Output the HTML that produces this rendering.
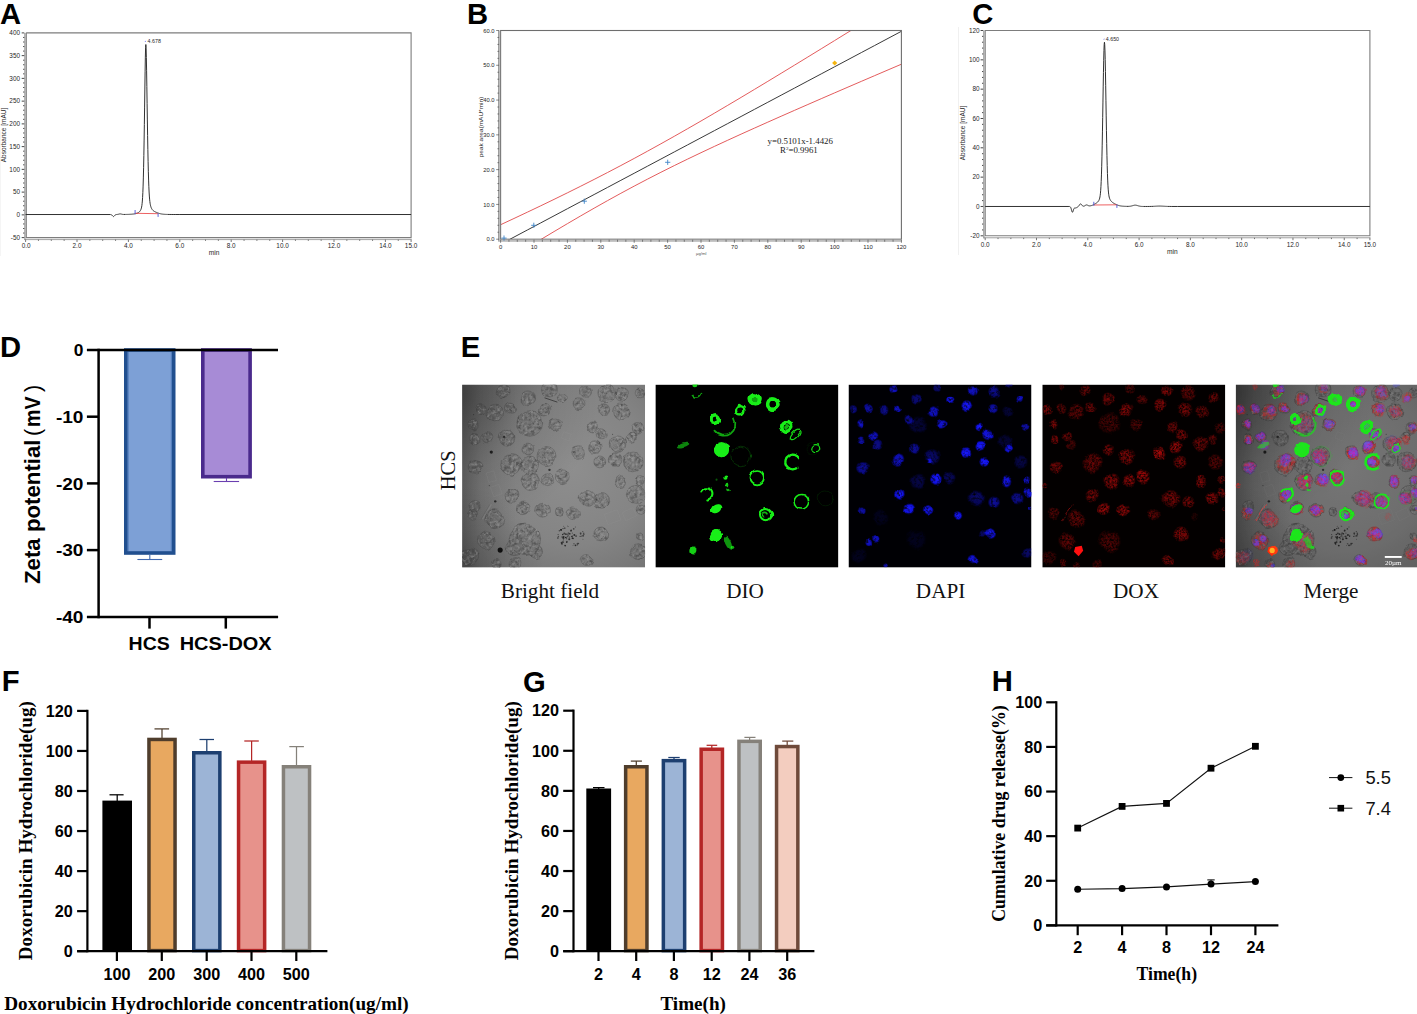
<!DOCTYPE html>
<html><head><meta charset="utf-8"><title>Figure</title>
<style>
html,body{margin:0;padding:0;background:#fff;}
body{width:1417px;height:1014px;overflow:hidden;font-family:"Liberation Sans",sans-serif;}
svg{display:block;position:absolute;left:0;top:0;}
svg text{font-family:"Liberation Sans",sans-serif;}
svg text.se{font-family:"Liberation Serif",serif;}
</style></head><body>
<svg width="1417" height="1014" viewBox="0 0 1417 1014">
<rect width="1417" height="1014" fill="#fff"/>
<defs><clipPath id="ic"><rect x="0" y="0" width="183" height="183"/></clipPath>
<radialGradient id="bfg" cx="0.6" cy="0.45" r="0.85"><stop offset="0" stop-color="#8e8e8e"/><stop offset="0.5" stop-color="#848484"/><stop offset="0.85" stop-color="#727272"/><stop offset="1" stop-color="#626262"/></radialGradient>
<radialGradient id="bfd" cx="0" cy="0.05" r="0.75"><stop offset="0" stop-color="#000" stop-opacity="0.3"/><stop offset="0.55" stop-color="#000" stop-opacity="0.08"/><stop offset="1" stop-color="#000" stop-opacity="0"/></radialGradient>
<linearGradient id="bfl" x1="0" y1="0" x2="1" y2="0"><stop offset="0" stop-color="#000" stop-opacity="0.22"/><stop offset="0.1" stop-color="#000" stop-opacity="0.09"/><stop offset="0.3" stop-color="#000" stop-opacity="0"/></linearGradient>
<radialGradient id="bfc" cx="0" cy="1" r="0.45"><stop offset="0" stop-color="#000" stop-opacity="0.16"/><stop offset="1" stop-color="#000" stop-opacity="0"/></radialGradient>
<radialGradient id="rg"><stop offset="0" stop-color="#c00a0a"/><stop offset="0.7" stop-color="#b00808" stop-opacity="0.85"/><stop offset="1" stop-color="#900" stop-opacity="0"/></radialGradient>
<radialGradient id="bg"><stop offset="0" stop-color="#1a1aff"/><stop offset="0.65" stop-color="#1212f4" stop-opacity="0.9"/><stop offset="1" stop-color="#00c" stop-opacity="0"/></radialGradient>
<filter id="fbd" filterUnits="userSpaceOnUse" x="0" y="0" width="183" height="183" color-interpolation-filters="sRGB"><feTurbulence type="fractalNoise" baseFrequency="0.33" numOctaves="2" seed="4"/><feColorMatrix type="matrix" values="0 0 0 0 0.25 0 0 0 0 0.25 0 0 0 0 0.25 1.6 0 0 0 -0.62"/><feComposite in2="SourceGraphic" operator="in"/><feGaussianBlur stdDeviation="0.35"/></filter>
<filter id="fbl" filterUnits="userSpaceOnUse" x="0" y="0" width="183" height="183" color-interpolation-filters="sRGB"><feTurbulence type="fractalNoise" baseFrequency="0.33" numOctaves="2" seed="11"/><feColorMatrix type="matrix" values="0 0 0 0 0.66 0 0 0 0 0.66 0 0 0 0 0.66 0 1.2 0 0 -0.52"/><feComposite in2="SourceGraphic" operator="in"/><feGaussianBlur stdDeviation="0.35"/></filter>
<filter id="fr" filterUnits="userSpaceOnUse" x="0" y="0" width="183" height="183" color-interpolation-filters="sRGB"><feTurbulence type="fractalNoise" baseFrequency="0.5" numOctaves="2" seed="8" result="n"/><feColorMatrix in="n" type="matrix" values="0 0 0 0 1 0 0 0 0 1 0 0 0 0 1 2.2 0 0 0 -0.5" result="m"/><feComposite in="SourceGraphic" in2="m" operator="in"/><feGaussianBlur stdDeviation="0.5"/></filter>
<filter id="fb" filterUnits="userSpaceOnUse" x="0" y="0" width="183" height="183" color-interpolation-filters="sRGB"><feTurbulence type="fractalNoise" baseFrequency="0.35" numOctaves="2" seed="21" result="n"/><feColorMatrix in="n" type="matrix" values="0 0 0 0 1 0 0 0 0 1 0 0 0 0 1 0 2.4 0 0 -0.3" result="m"/><feComposite in="SourceGraphic" in2="m" operator="in"/><feGaussianBlur stdDeviation="0.5"/></filter>
<filter id="fg" filterUnits="userSpaceOnUse" x="0" y="0" width="183" height="183" color-interpolation-filters="sRGB"><feGaussianBlur stdDeviation="0.7"/><feComponentTransfer><feFuncA type="linear" slope="1.25"/></feComponentTransfer></filter>
<filter id="fg2" filterUnits="userSpaceOnUse" x="0" y="0" width="183" height="183" color-interpolation-filters="sRGB"><feGaussianBlur stdDeviation="0.75"/></filter>
<filter id="wob" filterUnits="userSpaceOnUse" x="0" y="0" width="183" height="183" color-interpolation-filters="sRGB"><feTurbulence type="fractalNoise" baseFrequency="0.075" numOctaves="2" seed="3" result="t"/><feDisplacementMap in="SourceGraphic" in2="t" scale="5" xChannelSelector="R" yChannelSelector="G"/><feGaussianBlur stdDeviation="0.3"/></filter>
<filter id="fs" filterUnits="userSpaceOnUse" x="0" y="0" width="183" height="183" color-interpolation-filters="sRGB"><feGaussianBlur stdDeviation="0.4"/></filter>
<g id="bfcells"><circle cx="41.03" cy="7.3" r="6.9"/><circle cx="65.68" cy="13.21" r="6.9"/><circle cx="87.38" cy="4.34" r="7.89"/><circle cx="100.2" cy="13.21" r="4.93"/><circle cx="123.87" cy="7.3" r="5.52"/><circle cx="116.96" cy="19.13" r="5.92"/><circle cx="144.58" cy="8.28" r="8.88"/><circle cx="159.37" cy="10.26" r="6.31"/><circle cx="178.11" cy="8.28" r="4.93"/><circle cx="19.33" cy="25.05" r="4.93"/><circle cx="33.14" cy="28.99" r="8.28"/><circle cx="48.92" cy="24.06" r="5.52"/><circle cx="82.45" cy="26.04" r="6.31"/><circle cx="67.65" cy="38.86" r="12.82"/><circle cx="93.29" cy="39.84" r="6.31"/><circle cx="141.62" cy="25.05" r="5.92"/><circle cx="159.37" cy="27.02" r="8.88"/><circle cx="11.44" cy="40.83" r="5.52"/><circle cx="130.77" cy="41.81" r="5.52"/><circle cx="139.64" cy="49.7" r="5.52"/><circle cx="175.15" cy="43.79" r="5.92"/><circle cx="12.43" cy="54.64" r="5.52"/><circle cx="25.25" cy="52.66" r="5.52"/><circle cx="44.97" cy="52.66" r="7.89"/><circle cx="65.68" cy="64.5" r="5.92"/><circle cx="84.42" cy="71.4" r="9.47"/><circle cx="115.98" cy="68.44" r="6.31"/><circle cx="132.74" cy="62.52" r="6.31"/><circle cx="155.42" cy="59.57" r="8.28"/><circle cx="169.23" cy="52.66" r="4.93"/><circle cx="137.67" cy="77.32" r="5.92"/><circle cx="153.45" cy="75.35" r="6.31"/><circle cx="171.2" cy="77.32" r="9.86"/><circle cx="13.41" cy="82.25" r="6.31"/><circle cx="48.92" cy="80.28" r="10.26"/><circle cx="67.65" cy="80.28" r="8.88"/><circle cx="68.64" cy="97.04" r="8.88"/><circle cx="85.4" cy="95.07" r="5.92"/><circle cx="100.2" cy="92.11" r="6.9"/><circle cx="158.38" cy="97.04" r="5.92"/><circle cx="178.11" cy="96.06" r="4.93"/><circle cx="49.9" cy="110.85" r="6.9"/><circle cx="174.16" cy="109.86" r="8.88"/><circle cx="125.84" cy="113.81" r="7.89"/><circle cx="139.64" cy="115.78" r="7.89"/><circle cx="12.43" cy="121.7" r="5.52"/><circle cx="61.74" cy="123.67" r="6.31"/><circle cx="80.47" cy="125.64" r="6.9"/><circle cx="111.05" cy="128.6" r="6.31"/><circle cx="97.24" cy="126.63" r="3.94"/><circle cx="32.15" cy="134.52" r="9.47"/><circle cx="10.45" cy="129.59" r="4.93"/><circle cx="179.09" cy="124.65" r="4.93"/><circle cx="24.26" cy="156.21" r="8.88"/><circle cx="138.66" cy="149.31" r="6.9"/><circle cx="62.72" cy="155.23" r="15.78"/><circle cx="51.87" cy="163.12" r="7.89"/><circle cx="73.57" cy="167.06" r="6.9"/><circle cx="7.5" cy="171.99" r="8.88"/><circle cx="123.87" cy="175.94" r="5.92"/><circle cx="53.85" cy="178.9" r="5.92"/><circle cx="176.13" cy="167.06" r="7.89"/><circle cx="178.11" cy="151.28" r="3.94"/><circle cx="34.12" cy="178.9" r="4.93"/></g>
<g id="bfout" fill="none" filter="url(#fs)"><circle cx="41.03" cy="7.3" r="6.9" stroke="#303030" stroke-width="0.6" stroke-opacity="0.4"/><circle cx="65.68" cy="13.21" r="6.9" stroke="#303030" stroke-width="0.6" stroke-opacity="0.4"/><circle cx="87.38" cy="4.34" r="7.89" stroke="#303030" stroke-width="0.6" stroke-opacity="0.4"/><circle cx="100.2" cy="13.21" r="4.93" stroke="#303030" stroke-width="0.6" stroke-opacity="0.4"/><circle cx="123.87" cy="7.3" r="5.52" stroke="#303030" stroke-width="0.6" stroke-opacity="0.4"/><circle cx="116.96" cy="19.13" r="5.92" stroke="#303030" stroke-width="0.6" stroke-opacity="0.4"/><circle cx="144.58" cy="8.28" r="8.88" stroke="#303030" stroke-width="0.6" stroke-opacity="0.4"/><circle cx="159.37" cy="10.26" r="6.31" stroke="#303030" stroke-width="0.6" stroke-opacity="0.4"/><circle cx="178.11" cy="8.28" r="4.93" stroke="#303030" stroke-width="0.6" stroke-opacity="0.4"/><circle cx="19.33" cy="25.05" r="4.93" stroke="#303030" stroke-width="0.6" stroke-opacity="0.4"/><circle cx="33.14" cy="28.99" r="8.28" stroke="#303030" stroke-width="0.6" stroke-opacity="0.4"/><circle cx="48.92" cy="24.06" r="5.52" stroke="#303030" stroke-width="0.6" stroke-opacity="0.4"/><circle cx="82.45" cy="26.04" r="6.31" stroke="#303030" stroke-width="0.6" stroke-opacity="0.4"/><circle cx="67.65" cy="38.86" r="12.82" stroke="#303030" stroke-width="0.6" stroke-opacity="0.4"/><circle cx="93.29" cy="39.84" r="6.31" stroke="#303030" stroke-width="0.6" stroke-opacity="0.4"/><circle cx="141.62" cy="25.05" r="5.92" stroke="#303030" stroke-width="0.6" stroke-opacity="0.4"/><circle cx="159.37" cy="27.02" r="8.88" stroke="#303030" stroke-width="0.6" stroke-opacity="0.4"/><circle cx="11.44" cy="40.83" r="5.52" stroke="#303030" stroke-width="0.6" stroke-opacity="0.4"/><circle cx="130.77" cy="41.81" r="5.52" stroke="#303030" stroke-width="0.6" stroke-opacity="0.4"/><circle cx="139.64" cy="49.7" r="5.52" stroke="#303030" stroke-width="0.6" stroke-opacity="0.4"/><circle cx="175.15" cy="43.79" r="5.92" stroke="#303030" stroke-width="0.6" stroke-opacity="0.4"/><circle cx="12.43" cy="54.64" r="5.52" stroke="#303030" stroke-width="0.6" stroke-opacity="0.4"/><circle cx="25.25" cy="52.66" r="5.52" stroke="#303030" stroke-width="0.6" stroke-opacity="0.4"/><circle cx="44.97" cy="52.66" r="7.89" stroke="#303030" stroke-width="0.6" stroke-opacity="0.4"/><circle cx="65.68" cy="64.5" r="5.92" stroke="#303030" stroke-width="0.6" stroke-opacity="0.4"/><circle cx="84.42" cy="71.4" r="9.47" stroke="#303030" stroke-width="0.6" stroke-opacity="0.4"/><circle cx="115.98" cy="68.44" r="6.31" stroke="#303030" stroke-width="0.6" stroke-opacity="0.4"/><circle cx="132.74" cy="62.52" r="6.31" stroke="#303030" stroke-width="0.6" stroke-opacity="0.4"/><circle cx="155.42" cy="59.57" r="8.28" stroke="#303030" stroke-width="0.6" stroke-opacity="0.4"/><circle cx="169.23" cy="52.66" r="4.93" stroke="#303030" stroke-width="0.6" stroke-opacity="0.4"/><circle cx="137.67" cy="77.32" r="5.92" stroke="#303030" stroke-width="0.6" stroke-opacity="0.4"/><circle cx="153.45" cy="75.35" r="6.31" stroke="#303030" stroke-width="0.6" stroke-opacity="0.4"/><circle cx="171.2" cy="77.32" r="9.86" stroke="#303030" stroke-width="0.6" stroke-opacity="0.4"/><circle cx="13.41" cy="82.25" r="6.31" stroke="#303030" stroke-width="0.6" stroke-opacity="0.4"/><circle cx="48.92" cy="80.28" r="10.26" stroke="#303030" stroke-width="0.6" stroke-opacity="0.4"/><circle cx="67.65" cy="80.28" r="8.88" stroke="#303030" stroke-width="0.6" stroke-opacity="0.4"/><circle cx="68.64" cy="97.04" r="8.88" stroke="#303030" stroke-width="0.6" stroke-opacity="0.4"/><circle cx="85.4" cy="95.07" r="5.92" stroke="#303030" stroke-width="0.6" stroke-opacity="0.4"/><circle cx="100.2" cy="92.11" r="6.9" stroke="#303030" stroke-width="0.6" stroke-opacity="0.4"/><circle cx="158.38" cy="97.04" r="5.92" stroke="#303030" stroke-width="0.6" stroke-opacity="0.4"/><circle cx="178.11" cy="96.06" r="4.93" stroke="#303030" stroke-width="0.6" stroke-opacity="0.4"/><circle cx="49.9" cy="110.85" r="6.9" stroke="#303030" stroke-width="0.6" stroke-opacity="0.4"/><circle cx="174.16" cy="109.86" r="8.88" stroke="#303030" stroke-width="0.6" stroke-opacity="0.4"/><circle cx="125.84" cy="113.81" r="7.89" stroke="#303030" stroke-width="0.6" stroke-opacity="0.4"/><circle cx="139.64" cy="115.78" r="7.89" stroke="#303030" stroke-width="0.6" stroke-opacity="0.4"/><circle cx="12.43" cy="121.7" r="5.52" stroke="#303030" stroke-width="0.6" stroke-opacity="0.4"/><circle cx="61.74" cy="123.67" r="6.31" stroke="#303030" stroke-width="0.6" stroke-opacity="0.4"/><circle cx="80.47" cy="125.64" r="6.9" stroke="#303030" stroke-width="0.6" stroke-opacity="0.4"/><circle cx="111.05" cy="128.6" r="6.31" stroke="#303030" stroke-width="0.6" stroke-opacity="0.4"/><circle cx="97.24" cy="126.63" r="3.94" stroke="#303030" stroke-width="0.6" stroke-opacity="0.4"/><circle cx="32.15" cy="134.52" r="9.47" stroke="#303030" stroke-width="0.6" stroke-opacity="0.4"/><circle cx="10.45" cy="129.59" r="4.93" stroke="#303030" stroke-width="0.6" stroke-opacity="0.4"/><circle cx="179.09" cy="124.65" r="4.93" stroke="#303030" stroke-width="0.6" stroke-opacity="0.4"/><circle cx="24.26" cy="156.21" r="8.88" stroke="#303030" stroke-width="0.6" stroke-opacity="0.4"/><circle cx="138.66" cy="149.31" r="6.9" stroke="#303030" stroke-width="0.6" stroke-opacity="0.4"/><circle cx="62.72" cy="155.23" r="15.78" stroke="#303030" stroke-width="0.6" stroke-opacity="0.4"/><circle cx="51.87" cy="163.12" r="7.89" stroke="#303030" stroke-width="0.6" stroke-opacity="0.4"/><circle cx="73.57" cy="167.06" r="6.9" stroke="#303030" stroke-width="0.6" stroke-opacity="0.4"/><circle cx="7.5" cy="171.99" r="8.88" stroke="#303030" stroke-width="0.6" stroke-opacity="0.4"/><circle cx="123.87" cy="175.94" r="5.92" stroke="#303030" stroke-width="0.6" stroke-opacity="0.4"/><circle cx="53.85" cy="178.9" r="5.92" stroke="#303030" stroke-width="0.6" stroke-opacity="0.4"/><circle cx="176.13" cy="167.06" r="7.89" stroke="#303030" stroke-width="0.6" stroke-opacity="0.4"/><circle cx="178.11" cy="151.28" r="3.94" stroke="#303030" stroke-width="0.6" stroke-opacity="0.4"/><circle cx="34.12" cy="178.9" r="4.93" stroke="#303030" stroke-width="0.6" stroke-opacity="0.4"/></g>
<g id="bfdeb" filter="url(#fs)"><circle cx="29.19" cy="67.46" r="1.58" fill="#0a0a0a" fill-opacity="0.8"/><circle cx="42.01" cy="52.27" r="1.18" fill="#0a0a0a" fill-opacity="0.55"/><circle cx="87.38" cy="85.21" r="1.18" fill="#0a0a0a" fill-opacity="0.65"/><circle cx="33.14" cy="116.77" r="1.18" fill="#0a0a0a" fill-opacity="0.7"/><circle cx="38.07" cy="165.48" r="2.56" fill="#0a0a0a" fill-opacity="0.95"/><circle cx="27.22" cy="100.99" r="0.59" fill="#0a0a0a" fill-opacity="0.45"/><circle cx="150.49" cy="49.7" r="0.59" fill="#0a0a0a" fill-opacity="0.45"/><circle cx="11.44" cy="29.98" r="0.59" fill="#0a0a0a" fill-opacity="0.35"/><circle cx="99.01" cy="145.4" r="0.89" fill="#1c1c1c" fill-opacity="0.83"/><circle cx="105.38" cy="141.48" r="0.47" fill="#1c1c1c" fill-opacity="0.64"/><circle cx="118.53" cy="148.6" r="0.95" fill="#1c1c1c" fill-opacity="0.5"/><circle cx="101.61" cy="152.04" r="0.75" fill="#1c1c1c" fill-opacity="0.68"/><circle cx="110.29" cy="151.58" r="0.6" fill="#1c1c1c" fill-opacity="0.82"/><circle cx="106.45" cy="148.42" r="0.89" fill="#1c1c1c" fill-opacity="0.51"/><circle cx="103.98" cy="149.64" r="0.45" fill="#1c1c1c" fill-opacity="0.8"/><circle cx="107.17" cy="154.72" r="0.99" fill="#1c1c1c" fill-opacity="0.8"/><circle cx="103.21" cy="161.09" r="0.75" fill="#1c1c1c" fill-opacity="0.72"/><circle cx="113.34" cy="160.84" r="0.83" fill="#1c1c1c" fill-opacity="0.84"/><circle cx="110.24" cy="148.52" r="0.65" fill="#1c1c1c" fill-opacity="0.52"/><circle cx="107.22" cy="152.5" r="0.62" fill="#1c1c1c" fill-opacity="0.69"/><circle cx="119.37" cy="151.45" r="0.64" fill="#1c1c1c" fill-opacity="0.57"/><circle cx="109.17" cy="145.62" r="0.62" fill="#1c1c1c" fill-opacity="0.64"/><circle cx="105.65" cy="149.94" r="0.99" fill="#1c1c1c" fill-opacity="0.46"/><circle cx="106.1" cy="142.04" r="0.46" fill="#1c1c1c" fill-opacity="0.77"/><circle cx="100.56" cy="156.56" r="0.45" fill="#1c1c1c" fill-opacity="0.47"/><circle cx="115.04" cy="160.41" r="0.56" fill="#1c1c1c" fill-opacity="0.75"/><circle cx="120.66" cy="147.02" r="0.64" fill="#1c1c1c" fill-opacity="0.59"/><circle cx="96" cy="149.94" r="0.51" fill="#1c1c1c" fill-opacity="0.75"/><circle cx="113.27" cy="142.34" r="0.47" fill="#1c1c1c" fill-opacity="0.83"/><circle cx="110.95" cy="153.93" r="0.79" fill="#1c1c1c" fill-opacity="0.82"/><circle cx="99.92" cy="159.59" r="0.75" fill="#1c1c1c" fill-opacity="0.57"/><circle cx="104.63" cy="154.11" r="0.49" fill="#1c1c1c" fill-opacity="0.51"/><circle cx="101.56" cy="141.66" r="0.54" fill="#1c1c1c" fill-opacity="0.47"/><circle cx="113.96" cy="150.72" r="0.67" fill="#1c1c1c" fill-opacity="0.54"/><circle cx="97.22" cy="146.22" r="0.7" fill="#1c1c1c" fill-opacity="0.62"/><circle cx="120.86" cy="154.63" r="0.47" fill="#1c1c1c" fill-opacity="0.65"/><circle cx="107.67" cy="149.16" r="0.85" fill="#1c1c1c" fill-opacity="0.83"/><circle cx="99.05" cy="144.85" r="0.51" fill="#1c1c1c" fill-opacity="0.62"/><circle cx="116.49" cy="158.73" r="0.61" fill="#1c1c1c" fill-opacity="0.63"/><circle cx="120.99" cy="151.24" r="0.99" fill="#1c1c1c" fill-opacity="0.63"/><circle cx="96.34" cy="151.9" r="0.71" fill="#1c1c1c" fill-opacity="0.57"/><circle cx="103.49" cy="152.82" r="0.66" fill="#1c1c1c" fill-opacity="0.85"/><circle cx="118.6" cy="149.41" r="0.72" fill="#1c1c1c" fill-opacity="0.59"/><circle cx="110.28" cy="153.5" r="0.88" fill="#1c1c1c" fill-opacity="0.8"/><circle cx="99.46" cy="158" r="0.88" fill="#1c1c1c" fill-opacity="0.73"/><circle cx="100.92" cy="143.93" r="0.65" fill="#1c1c1c" fill-opacity="0.73"/><circle cx="104.69" cy="157.43" r="0.87" fill="#1c1c1c" fill-opacity="0.73"/><circle cx="102.92" cy="160.9" r="0.81" fill="#1c1c1c" fill-opacity="0.68"/><circle cx="118.05" cy="151.78" r="0.59" fill="#1c1c1c" fill-opacity="0.72"/><circle cx="95.79" cy="153.36" r="0.81" fill="#1c1c1c" fill-opacity="0.77"/><circle cx="100.93" cy="157.52" r="0.86" fill="#1c1c1c" fill-opacity="0.78"/><circle cx="99.74" cy="158.74" r="0.93" fill="#1c1c1c" fill-opacity="0.73"/><circle cx="121.78" cy="149.77" r="0.73" fill="#1c1c1c" fill-opacity="0.66"/><circle cx="115.49" cy="159.21" r="0.97" fill="#1c1c1c" fill-opacity="0.64"/><circle cx="102.62" cy="143.58" r="0.85" fill="#1c1c1c" fill-opacity="0.52"/><circle cx="111.64" cy="144.3" r="0.82" fill="#1c1c1c" fill-opacity="0.62"/><circle cx="98.82" cy="145.18" r="0.8" fill="#1c1c1c" fill-opacity="0.74"/><circle cx="109.45" cy="151.78" r="0.69" fill="#1c1c1c" fill-opacity="0.71"/><circle cx="111.88" cy="159.12" r="0.8" fill="#1c1c1c" fill-opacity="0.47"/><circle cx="101.86" cy="151.93" r="0.48" fill="#1c1c1c" fill-opacity="0.5"/><circle cx="104.59" cy="154.15" r="0.56" fill="#1c1c1c" fill-opacity="0.46"/><circle cx="100.05" cy="152.42" r="0.79" fill="#1c1c1c" fill-opacity="0.69"/><circle cx="110.93" cy="160.93" r="0.45" fill="#1c1c1c" fill-opacity="0.61"/><circle cx="104.95" cy="156.76" r="0.51" fill="#1c1c1c" fill-opacity="0.78"/><circle cx="105.28" cy="152.01" r="0.79" fill="#1c1c1c" fill-opacity="0.49"/><circle cx="100.61" cy="149.91" r="0.77" fill="#1c1c1c" fill-opacity="0.83"/><circle cx="108.89" cy="146.14" r="0.9" fill="#1c1c1c" fill-opacity="0.71"/><circle cx="103.99" cy="153.22" r="0.78" fill="#1c1c1c" fill-opacity="0.68"/><circle cx="121.58" cy="148.58" r="0.78" fill="#1c1c1c" fill-opacity="0.59"/><circle cx="106.19" cy="151.23" r="0.51" fill="#1c1c1c" fill-opacity="0.68"/><circle cx="103.79" cy="149.54" r="0.8" fill="#1c1c1c" fill-opacity="0.81"/><circle cx="101.29" cy="155.34" r="0.57" fill="#1c1c1c" fill-opacity="0.57"/><circle cx="112.23" cy="150.37" r="0.98" fill="#1c1c1c" fill-opacity="0.82"/><circle cx="102.19" cy="148.99" r="0.99" fill="#1c1c1c" fill-opacity="0.65"/><circle cx="101.37" cy="153.65" r="0.99" fill="#1c1c1c" fill-opacity="0.65"/><circle cx="104.46" cy="157.31" r="0.52" fill="#1c1c1c" fill-opacity="0.7"/><circle cx="101.26" cy="152.81" r="0.88" fill="#1c1c1c" fill-opacity="0.78"/><circle cx="113.95" cy="151.84" r="0.6" fill="#1c1c1c" fill-opacity="0.82"/><line x1="82.45" y1="13.21" x2="95.27" y2="17.55" stroke="#2a2a2a" stroke-opacity="0.7" stroke-width="1"/><line x1="20.32" y1="134.52" x2="29.19" y2="119.72" stroke="#8e8e8e" stroke-opacity="0.4" stroke-width="1.8"/><line x1="19.12" y1="134.52" x2="27.99" y2="119.72" stroke="#444" stroke-opacity="0.5" stroke-width="0.5"/><rect x="143.59" y="127.12" width="13.81" height="10.85" fill="none" stroke="#9c9c9c" stroke-opacity="0.28" stroke-width="0.5" transform="rotate(-20 150.49 132.54)"/><rect x="161.34" y="125.15" width="11.83" height="8.88" fill="none" stroke="#9c9c9c" stroke-opacity="0.28" stroke-width="0.5" transform="rotate(-25 167.26 129.59)"/><rect x="25.25" y="87.18" width="7.89" height="9.86" fill="none" stroke="#9c9c9c" stroke-opacity="0.28" stroke-width="0.5" transform="rotate(-15 29.19 92.11)"/><rect x="100.2" y="48.22" width="7.89" height="6.9" fill="none" stroke="#9c9c9c" stroke-opacity="0.28" stroke-width="0.5" transform="rotate(20 104.14 51.68)"/><rect x="29.68" y="100.99" width="8.88" height="9.86" fill="none" stroke="#9c9c9c" stroke-opacity="0.28" stroke-width="0.5" transform="rotate(-20 34.12 105.92)"/></g>
<g id="redb"><circle cx="43" cy="6.31" r="6.39" fill="url(#rg)" fill-opacity="0.52"/><circle cx="87.38" cy="3.35" r="5.33" fill="url(#rg)" fill-opacity="0.39"/><circle cx="124.85" cy="6.31" r="5.96" fill="url(#rg)" fill-opacity="0.72"/><circle cx="145.56" cy="7.69" r="8.09" fill="url(#rg)" fill-opacity="0.52"/><circle cx="171.79" cy="13.21" r="6.39" fill="url(#rg)" fill-opacity="0.59"/><circle cx="19.33" cy="2.37" r="3.2" fill="url(#rg)" fill-opacity="0.39"/><circle cx="65.68" cy="14.2" r="6.82" fill="url(#rg)" fill-opacity="0.59"/><circle cx="99.8" cy="14.79" r="6.39" fill="url(#rg)" fill-opacity="0.52"/><circle cx="117.95" cy="20.12" r="6.82" fill="url(#rg)" fill-opacity="0.78"/><circle cx="5.52" cy="25.05" r="5.96" fill="url(#rg)" fill-opacity="0.65"/><circle cx="19.33" cy="24.65" r="5.33" fill="url(#rg)" fill-opacity="0.52"/><circle cx="34.12" cy="28.01" r="8.52" fill="url(#rg)" fill-opacity="0.52"/><circle cx="48.92" cy="23.08" r="5.96" fill="url(#rg)" fill-opacity="0.59"/><circle cx="83.43" cy="26.04" r="7.46" fill="url(#rg)" fill-opacity="0.72"/><circle cx="142.6" cy="25.05" r="8.09" fill="url(#rg)" fill-opacity="0.65"/><circle cx="159.96" cy="27.02" r="8.09" fill="url(#rg)" fill-opacity="0.52"/><circle cx="11.44" cy="40.43" r="5.33" fill="url(#rg)" fill-opacity="0.65"/><circle cx="67.26" cy="38.86" r="11.72" fill="url(#rg)" fill-opacity="0.39"/><circle cx="93.89" cy="39.84" r="6.82" fill="url(#rg)" fill-opacity="0.45"/><circle cx="130.77" cy="41.81" r="6.39" fill="url(#rg)" fill-opacity="0.59"/><circle cx="177.12" cy="43.79" r="6.39" fill="url(#rg)" fill-opacity="0.39"/><circle cx="139.64" cy="50.69" r="6.82" fill="url(#rg)" fill-opacity="0.65"/><circle cx="25.25" cy="52.07" r="5.54" fill="url(#rg)" fill-opacity="0.59"/><circle cx="12.43" cy="55.03" r="5.11" fill="url(#rg)" fill-opacity="0.65"/><circle cx="29.19" cy="60.55" r="5.33" fill="url(#rg)" fill-opacity="0.39"/><circle cx="158.38" cy="59.57" r="8.52" fill="url(#rg)" fill-opacity="0.59"/><circle cx="170.22" cy="54.64" r="5.33" fill="url(#rg)" fill-opacity="0.52"/><circle cx="133.33" cy="62.52" r="6.82" fill="url(#rg)" fill-opacity="0.85"/><circle cx="66.07" cy="65.48" r="6.39" fill="url(#rg)" fill-opacity="0.65"/><circle cx="116.96" cy="69.03" r="6.82" fill="url(#rg)" fill-opacity="0.91"/><circle cx="84.81" cy="71.4" r="8.95" fill="url(#rg)" fill-opacity="0.72"/><circle cx="49.9" cy="78.7" r="10.65" fill="url(#rg)" fill-opacity="0.59"/><circle cx="137.67" cy="77.32" r="7.46" fill="url(#rg)" fill-opacity="0.65"/><circle cx="173.18" cy="77.32" r="8.52" fill="url(#rg)" fill-opacity="0.45"/><circle cx="14" cy="82.64" r="6.39" fill="url(#rg)" fill-opacity="0.65"/><circle cx="69.63" cy="97.04" r="8.95" fill="url(#rg)" fill-opacity="0.72"/><circle cx="86.79" cy="96.06" r="6.82" fill="url(#rg)" fill-opacity="0.78"/><circle cx="100.79" cy="92.11" r="7.46" fill="url(#rg)" fill-opacity="0.85"/><circle cx="158.97" cy="96.45" r="6.82" fill="url(#rg)" fill-opacity="0.72"/><circle cx="179.09" cy="95.07" r="4.69" fill="url(#rg)" fill-opacity="0.52"/><circle cx="2.56" cy="101.97" r="3.2" fill="url(#rg)" fill-opacity="0.52"/><circle cx="49.9" cy="110.45" r="7.46" fill="url(#rg)" fill-opacity="0.65"/><circle cx="128.4" cy="114.2" r="9.59" fill="url(#rg)" fill-opacity="0.65"/><circle cx="145.96" cy="117.36" r="6.82" fill="url(#rg)" fill-opacity="0.65"/><circle cx="170.22" cy="113.81" r="6.82" fill="url(#rg)" fill-opacity="0.72"/><circle cx="179.09" cy="107.89" r="4.69" fill="url(#rg)" fill-opacity="0.65"/><circle cx="11.44" cy="128.6" r="6.82" fill="url(#rg)" fill-opacity="0.45"/><circle cx="62.13" cy="124.26" r="6.82" fill="url(#rg)" fill-opacity="0.85"/><circle cx="80.87" cy="125.64" r="6.82" fill="url(#rg)" fill-opacity="0.78"/><circle cx="111.44" cy="129.59" r="6.82" fill="url(#rg)" fill-opacity="0.52"/><circle cx="33.73" cy="134.52" r="9.59" fill="url(#rg)" fill-opacity="0.52"/><circle cx="152.47" cy="132.54" r="4.26" fill="url(#rg)" fill-opacity="0.2"/><circle cx="181.07" cy="124.65" r="2.13" fill="url(#rg)" fill-opacity="0.52"/><circle cx="138.66" cy="149.31" r="8.09" fill="url(#rg)" fill-opacity="0.72"/><circle cx="24.85" cy="156.8" r="9.59" fill="url(#rg)" fill-opacity="0.52"/><circle cx="67.26" cy="157.2" r="11.72" fill="url(#rg)" fill-opacity="0.45"/><circle cx="176.13" cy="169.03" r="7.46" fill="url(#rg)" fill-opacity="0.59"/><circle cx="180.08" cy="155.23" r="3.2" fill="url(#rg)" fill-opacity="0.52"/><circle cx="6.51" cy="172.98" r="8.52" fill="url(#rg)" fill-opacity="0.33"/><circle cx="124.85" cy="175.94" r="6.39" fill="url(#rg)" fill-opacity="0.65"/><circle cx="21.3" cy="178.9" r="4.26" fill="url(#rg)" fill-opacity="0.52"/><circle cx="55.82" cy="179.88" r="5.33" fill="url(#rg)" fill-opacity="0.39"/><circle cx="34.12" cy="179.88" r="4.26" fill="url(#rg)" fill-opacity="0.39"/><line x1="20.32" y1="135.5" x2="30.18" y2="120.71" stroke="#e01515" stroke-opacity="0.8" stroke-width="0.8"/></g>
<path id="redsolid" d="M32.87 162.47 l6.6 -1.2 l1.4 5 l-4.6 5.4 l-4.6 -4.4 z"/>
<g id="blub"><circle cx="44.97" cy="4.73" r="4.77" fill="url(#bg)" fill-opacity="0.78"/><circle cx="88.36" cy="2.37" r="4.34" fill="url(#bg)" fill-opacity="0.39"/><circle cx="124.85" cy="6.31" r="5.42" fill="url(#bg)" fill-opacity="0.78"/><circle cx="145.56" cy="7.3" r="6.51" fill="url(#bg)" fill-opacity="0.52"/><circle cx="160.36" cy="1.38" r="3.25" fill="url(#bg)" fill-opacity="0.39"/><circle cx="67.65" cy="14.2" r="5.42" fill="url(#bg)" fill-opacity="0.45"/><circle cx="101.78" cy="15.19" r="4.77" fill="url(#bg)" fill-opacity="0.91"/><circle cx="118.34" cy="21.1" r="6.07" fill="url(#bg)" fill-opacity="1"/><circle cx="171.79" cy="14.6" r="4.34" fill="url(#bg)" fill-opacity="0.78"/><circle cx="5.52" cy="24.65" r="4.77" fill="url(#bg)" fill-opacity="0.52"/><circle cx="20.32" cy="24.06" r="4.77" fill="url(#bg)" fill-opacity="0.65"/><circle cx="35.11" cy="26.04" r="5.42" fill="url(#bg)" fill-opacity="0.52"/><circle cx="49.9" cy="24.46" r="3.91" fill="url(#bg)" fill-opacity="0.78"/><circle cx="85.4" cy="28.01" r="6.07" fill="url(#bg)" fill-opacity="0.78"/><circle cx="144.58" cy="24.06" r="5.42" fill="url(#bg)" fill-opacity="0.65"/><circle cx="159.37" cy="27.02" r="6.51" fill="url(#bg)" fill-opacity="0.2"/><circle cx="60.75" cy="34.91" r="5.42" fill="url(#bg)" fill-opacity="0.59"/><circle cx="69.63" cy="40.83" r="9.76" fill="url(#bg)" fill-opacity="0.2"/><circle cx="93.29" cy="39.25" r="5.42" fill="url(#bg)" fill-opacity="0.85"/><circle cx="11.83" cy="39.84" r="4.77" fill="url(#bg)" fill-opacity="0.78"/><circle cx="130.77" cy="41.81" r="4.34" fill="url(#bg)" fill-opacity="1"/><circle cx="176.13" cy="42.8" r="4.34" fill="url(#bg)" fill-opacity="0.65"/><circle cx="139.64" cy="50.69" r="6.51" fill="url(#bg)" fill-opacity="0.91"/><circle cx="25.25" cy="51.68" r="5.42" fill="url(#bg)" fill-opacity="0.78"/><circle cx="12.43" cy="55.62" r="4.34" fill="url(#bg)" fill-opacity="0.65"/><circle cx="29.19" cy="60.55" r="5.42" fill="url(#bg)" fill-opacity="0.52"/><circle cx="131.76" cy="61.14" r="5.42" fill="url(#bg)" fill-opacity="1"/><circle cx="65.68" cy="64.1" r="6.07" fill="url(#bg)" fill-opacity="0.59"/><circle cx="160.36" cy="63.91" r="4.77" fill="url(#bg)" fill-opacity="0.91"/><circle cx="156.41" cy="56.61" r="7.59" fill="url(#bg)" fill-opacity="0.2"/><circle cx="117.95" cy="68.44" r="5.42" fill="url(#bg)" fill-opacity="1"/><circle cx="84.42" cy="71.4" r="8.68" fill="url(#bg)" fill-opacity="0.39"/><circle cx="81.46" cy="75.35" r="3.25" fill="url(#bg)" fill-opacity="0.78"/><circle cx="48.92" cy="75.35" r="6.51" fill="url(#bg)" fill-opacity="0.78"/><circle cx="135.7" cy="77.32" r="5.42" fill="url(#bg)" fill-opacity="1"/><circle cx="172.19" cy="77.32" r="7.59" fill="url(#bg)" fill-opacity="0.26"/><circle cx="14.4" cy="83.23" r="6.51" fill="url(#bg)" fill-opacity="0.59"/><circle cx="87.38" cy="94.48" r="6.51" fill="url(#bg)" fill-opacity="1"/><circle cx="101.18" cy="93.1" r="6.51" fill="url(#bg)" fill-opacity="0.33"/><circle cx="69.63" cy="97.04" r="8.68" fill="url(#bg)" fill-opacity="0.26"/><circle cx="158.38" cy="96.45" r="6.07" fill="url(#bg)" fill-opacity="0.91"/><circle cx="178.11" cy="96.06" r="3.91" fill="url(#bg)" fill-opacity="0.78"/><circle cx="50.89" cy="109.86" r="6.07" fill="url(#bg)" fill-opacity="1"/><circle cx="179.09" cy="107.89" r="4.77" fill="url(#bg)" fill-opacity="0.91"/><circle cx="169.23" cy="113.81" r="6.51" fill="url(#bg)" fill-opacity="0.52"/><circle cx="127.81" cy="113.81" r="8.68" fill="url(#bg)" fill-opacity="0.39"/><circle cx="145.56" cy="117.75" r="6.51" fill="url(#bg)" fill-opacity="0.59"/><circle cx="13.41" cy="126.04" r="4.77" fill="url(#bg)" fill-opacity="0.65"/><circle cx="61.34" cy="124.26" r="6.07" fill="url(#bg)" fill-opacity="1"/><circle cx="80.08" cy="125.25" r="5.42" fill="url(#bg)" fill-opacity="0.91"/><circle cx="110.06" cy="130.57" r="5.42" fill="url(#bg)" fill-opacity="1"/><circle cx="32.15" cy="133.53" r="8.68" fill="url(#bg)" fill-opacity="0.1"/><circle cx="181.07" cy="123.67" r="2.17" fill="url(#bg)" fill-opacity="0.65"/><circle cx="141.62" cy="148.32" r="5.42" fill="url(#bg)" fill-opacity="0.91"/><circle cx="134.71" cy="149.31" r="4.34" fill="url(#bg)" fill-opacity="0.39"/><circle cx="27.22" cy="154.24" r="4.34" fill="url(#bg)" fill-opacity="0.78"/><circle cx="20.32" cy="159.17" r="3.91" fill="url(#bg)" fill-opacity="0.78"/><circle cx="67.65" cy="155.23" r="10.85" fill="url(#bg)" fill-opacity="0.1"/><circle cx="178.11" cy="168.05" r="6.07" fill="url(#bg)" fill-opacity="0.39"/><circle cx="123.87" cy="174.95" r="5.42" fill="url(#bg)" fill-opacity="0.91"/><circle cx="37.08" cy="179.88" r="2.6" fill="url(#bg)" fill-opacity="0.65"/><circle cx="10.45" cy="171.01" r="8.68" fill="url(#bg)" fill-opacity="0.1"/></g>
<g id="grn" fill="none" stroke-linecap="round"><path d="M46.04 10.11 A5.33 5.33 0 0 1 36.01 10.11" stroke="#18ee18" stroke-width="1.73" stroke-opacity="0.55"/><circle cx="39.45" cy="0.2" r="2.51" fill="#18ee18" fill-opacity="0.7"/><circle cx="99.21" cy="14.79" r="5.13" stroke="#18ee18" stroke-width="3.94" stroke-opacity="1"/><circle cx="99.21" cy="14.79" r="3.76" fill="#18ee18" fill-opacity="0.55"/><circle cx="117.36" cy="19.53" r="5.15" stroke="#18ee18" stroke-width="3.45" stroke-opacity="1"/><circle cx="84.81" cy="26.63" r="4.18" stroke="#18ee18" stroke-width="2.22" stroke-opacity="0.95"/><circle cx="83.83" cy="22.09" r="1.88" fill="#18ee18" fill-opacity="0.8"/><circle cx="59.76" cy="34.52" r="4.24" stroke="#18ee18" stroke-width="3.45" stroke-opacity="1"/><path d="M78.37 34.23 A11.23 11.23 0 0 1 60.03 47.06" stroke="#18ee18" stroke-width="1.73" stroke-opacity="0.55"/><circle cx="131.36" cy="41.81" r="4.93" stroke="#18ee18" stroke-width="3.45" stroke-opacity="1"/><circle cx="131.36" cy="41.81" r="2.51" fill="#18ee18" fill-opacity="0.6"/><ellipse cx="140.24" cy="50.3" rx="7.1" ry="2.96" stroke="#18ee18" stroke-width="1.23" stroke-opacity="0.75" transform="rotate(-48 140.24 50.3)"/><ellipse cx="28.21" cy="60.55" rx="5.85" ry="1.88" fill="#18ee18" fill-opacity="0.45" transform="rotate(-15 28.21 60.55)"/><circle cx="66.07" cy="65.09" r="7.53" fill="#18ee18" fill-opacity="1"/><circle cx="85.4" cy="71.4" r="9.79" stroke="#18ee18" stroke-width="0.99" stroke-opacity="0.16"/><circle cx="160.36" cy="64.1" r="3.99" stroke="#18ee18" stroke-width="1.23" stroke-opacity="0.75"/><path d="M140.96 83.69 A7.36 7.36 0 1 1 143.65 73.64" stroke="#18ee18" stroke-width="2.22" stroke-opacity="0.9"/><circle cx="101.78" cy="93.1" r="6.7" stroke="#18ee18" stroke-width="1.73" stroke-opacity="0.85"/><circle cx="70.02" cy="93.1" r="2.09" fill="#18ee18" fill-opacity="0.8"/><circle cx="71.99" cy="100" r="1.88" fill="#18ee18" fill-opacity="0.7"/><circle cx="73.57" cy="104.93" r="1.67" fill="#18ee18" fill-opacity="0.6"/><circle cx="62.13" cy="95.07" r="1.05" fill="#18ee18" fill-opacity="0.3"/><path d="M45.59 106.8 A6.12 6.12 0 1 1 51.95 115.89" stroke="#18ee18" stroke-width="1.97" stroke-opacity="0.85"/><ellipse cx="61.74" cy="124.06" rx="5.44" ry="4.18" fill="#18ee18" fill-opacity="0.85" transform="rotate(-30 61.74 124.06)"/><circle cx="145.96" cy="117.16" r="7.27" stroke="#18ee18" stroke-width="1.48" stroke-opacity="0.8"/><circle cx="110.65" cy="129.59" r="6.12" stroke="#18ee18" stroke-width="1.97" stroke-opacity="0.85"/><path d="M108.64 132.04 A2.84 2.84 0 1 1 112.52 128.17" stroke="#18ee18" stroke-width="1.73" stroke-opacity="0.6"/><ellipse cx="60.75" cy="150.89" rx="6.27" ry="5.02" fill="#18ee18" fill-opacity="0.95" transform="rotate(-35 60.75 150.89)"/><ellipse cx="72.58" cy="158.19" rx="2.93" ry="7.53" fill="#18ee18" fill-opacity="0.5" transform="rotate(-25 72.58 158.19)"/><circle cx="77.12" cy="162.72" r="1.67" fill="#18ee18" fill-opacity="0.6"/><circle cx="38.46" cy="166.47" r="3.55" fill="#18ee18" fill-opacity="0.7"/><circle cx="170.22" cy="113.81" r="7.42" stroke="#18ee18" stroke-width="0.74" stroke-opacity="0.1"/><circle cx="157.4" cy="64.5" r="6.73" stroke="#18ee18" stroke-width="0.74" stroke-opacity="0.07"/></g>
<g id="grn2" fill="none" stroke-linecap="round"><path d="M46.1 10.13 A5.4 5.4 0 0 1 35.95 10.13" stroke="#18ee18" stroke-width="2" stroke-opacity="0.55"/><circle cx="39.45" cy="0.2" r="2.51" fill="#18ee18" fill-opacity="0.7"/><circle cx="99.21" cy="14.79" r="5.02" stroke="#18ee18" stroke-width="4.58" stroke-opacity="1"/><circle cx="99.21" cy="14.79" r="3.76" fill="#18ee18" fill-opacity="0.55"/><circle cx="117.36" cy="19.53" r="5.08" stroke="#18ee18" stroke-width="4" stroke-opacity="1"/><circle cx="84.81" cy="26.63" r="4.2" stroke="#18ee18" stroke-width="2.57" stroke-opacity="0.95"/><circle cx="83.83" cy="22.09" r="1.88" fill="#18ee18" fill-opacity="0.8"/><circle cx="59.76" cy="34.52" r="4.17" stroke="#18ee18" stroke-width="4" stroke-opacity="1"/><path d="M78.42 34.2 A11.29 11.29 0 0 1 59.99 47.1" stroke="#18ee18" stroke-width="2" stroke-opacity="0.55"/><circle cx="131.36" cy="41.81" r="4.85" stroke="#18ee18" stroke-width="4" stroke-opacity="1"/><circle cx="131.36" cy="41.81" r="2.51" fill="#18ee18" fill-opacity="0.6"/><ellipse cx="140.24" cy="50.3" rx="7.1" ry="2.96" stroke="#18ee18" stroke-width="1.43" stroke-opacity="0.75" transform="rotate(-48 140.24 50.3)"/><ellipse cx="28.21" cy="60.55" rx="5.85" ry="1.88" fill="#18ee18" fill-opacity="0.45" transform="rotate(-15 28.21 60.55)"/><circle cx="66.07" cy="65.09" r="7.53" fill="#18ee18" fill-opacity="1"/><circle cx="85.4" cy="71.4" r="9.91" stroke="#18ee18" stroke-width="1.14" stroke-opacity="0.16"/><circle cx="160.36" cy="64.1" r="4.09" stroke="#18ee18" stroke-width="1.43" stroke-opacity="0.75"/><path d="M140.97 83.71 A7.38 7.38 0 1 1 143.67 73.63" stroke="#18ee18" stroke-width="2.57" stroke-opacity="0.9"/><circle cx="101.78" cy="93.1" r="6.76" stroke="#18ee18" stroke-width="2" stroke-opacity="0.85"/><circle cx="70.02" cy="93.1" r="2.09" fill="#18ee18" fill-opacity="0.8"/><circle cx="71.99" cy="100" r="1.88" fill="#18ee18" fill-opacity="0.7"/><circle cx="73.57" cy="104.93" r="1.67" fill="#18ee18" fill-opacity="0.6"/><circle cx="62.13" cy="95.07" r="1.05" fill="#18ee18" fill-opacity="0.3"/><path d="M45.55 106.78 A6.16 6.16 0 1 1 51.96 115.93" stroke="#18ee18" stroke-width="2.29" stroke-opacity="0.85"/><ellipse cx="61.74" cy="124.06" rx="5.44" ry="4.18" fill="#18ee18" fill-opacity="0.85" transform="rotate(-30 61.74 124.06)"/><circle cx="145.96" cy="117.16" r="7.35" stroke="#18ee18" stroke-width="1.72" stroke-opacity="0.8"/><circle cx="110.65" cy="129.59" r="6.16" stroke="#18ee18" stroke-width="2.29" stroke-opacity="0.85"/><path d="M108.61 132.1 A2.9 2.9 0 1 1 112.57 128.14" stroke="#18ee18" stroke-width="2" stroke-opacity="0.6"/><ellipse cx="60.75" cy="150.89" rx="6.27" ry="5.02" fill="#18ee18" fill-opacity="0.95" transform="rotate(-35 60.75 150.89)"/><ellipse cx="72.58" cy="158.19" rx="2.93" ry="7.53" fill="#18ee18" fill-opacity="0.5" transform="rotate(-25 72.58 158.19)"/><circle cx="77.12" cy="162.72" r="1.67" fill="#18ee18" fill-opacity="0.6"/><circle cx="38.46" cy="166.47" r="3.55" fill="#18ee18" fill-opacity="0.7"/><circle cx="170.22" cy="113.81" r="7.56" stroke="#18ee18" stroke-width="0.86" stroke-opacity="0.1"/><circle cx="157.4" cy="64.5" r="6.88" stroke="#18ee18" stroke-width="0.86" stroke-opacity="0.07"/></g></defs>
<text x="0" y="24" font-size="29.2" font-weight="bold">A</text>
<line x1="0.3" y1="130" x2="0.3" y2="256" stroke="#efefef" stroke-width="0.8" />
<path d="M26.3 32.9 L411.1 32.9 L411.1 237.6 L26.3 237.6 L26.3 32.4" fill="none" stroke="#7d7d7d" stroke-width="1.1" />
<line x1="25" y1="32.9" x2="25" y2="240" stroke="#aaaaaa" stroke-width="1.7" />
<line x1="25.7" y1="238.65" x2="411.6" y2="238.65" stroke="#dedede" stroke-width="1" />
<line x1="24.3" y1="239.6" x2="411.6" y2="239.6" stroke="#999" stroke-width="0.9" />
<line x1="21.7" y1="237.6" x2="24.3" y2="237.6" stroke="#333" stroke-width="0.9" />
<text x="20" y="239.85" font-size="6.4" text-anchor="end" fill="#262626">-50</text>
<line x1="23.1" y1="233.05" x2="24.3" y2="233.05" stroke="#333" stroke-width="0.9" />
<line x1="23.1" y1="228.5" x2="24.3" y2="228.5" stroke="#333" stroke-width="0.9" />
<line x1="23.1" y1="223.95" x2="24.3" y2="223.95" stroke="#333" stroke-width="0.9" />
<line x1="23.1" y1="219.4" x2="24.3" y2="219.4" stroke="#333" stroke-width="0.9" />
<line x1="21.7" y1="214.86" x2="24.3" y2="214.86" stroke="#333" stroke-width="0.9" />
<text x="20" y="217.11" font-size="6.4" text-anchor="end" fill="#262626">0</text>
<line x1="23.1" y1="210.31" x2="24.3" y2="210.31" stroke="#333" stroke-width="0.9" />
<line x1="23.1" y1="205.76" x2="24.3" y2="205.76" stroke="#333" stroke-width="0.9" />
<line x1="23.1" y1="201.21" x2="24.3" y2="201.21" stroke="#333" stroke-width="0.9" />
<line x1="23.1" y1="196.66" x2="24.3" y2="196.66" stroke="#333" stroke-width="0.9" />
<line x1="21.7" y1="192.11" x2="24.3" y2="192.11" stroke="#333" stroke-width="0.9" />
<text x="20" y="194.36" font-size="6.4" text-anchor="end" fill="#262626">50</text>
<line x1="23.1" y1="187.56" x2="24.3" y2="187.56" stroke="#333" stroke-width="0.9" />
<line x1="23.1" y1="183.01" x2="24.3" y2="183.01" stroke="#333" stroke-width="0.9" />
<line x1="23.1" y1="178.46" x2="24.3" y2="178.46" stroke="#333" stroke-width="0.9" />
<line x1="23.1" y1="173.92" x2="24.3" y2="173.92" stroke="#333" stroke-width="0.9" />
<line x1="21.7" y1="169.37" x2="24.3" y2="169.37" stroke="#333" stroke-width="0.9" />
<text x="20" y="171.62" font-size="6.4" text-anchor="end" fill="#262626">100</text>
<line x1="23.1" y1="164.82" x2="24.3" y2="164.82" stroke="#333" stroke-width="0.9" />
<line x1="23.1" y1="160.27" x2="24.3" y2="160.27" stroke="#333" stroke-width="0.9" />
<line x1="23.1" y1="155.72" x2="24.3" y2="155.72" stroke="#333" stroke-width="0.9" />
<line x1="23.1" y1="151.17" x2="24.3" y2="151.17" stroke="#333" stroke-width="0.9" />
<line x1="21.7" y1="146.62" x2="24.3" y2="146.62" stroke="#333" stroke-width="0.9" />
<text x="20" y="148.87" font-size="6.4" text-anchor="end" fill="#262626">150</text>
<line x1="23.1" y1="142.07" x2="24.3" y2="142.07" stroke="#333" stroke-width="0.9" />
<line x1="23.1" y1="137.52" x2="24.3" y2="137.52" stroke="#333" stroke-width="0.9" />
<line x1="23.1" y1="132.98" x2="24.3" y2="132.98" stroke="#333" stroke-width="0.9" />
<line x1="23.1" y1="128.43" x2="24.3" y2="128.43" stroke="#333" stroke-width="0.9" />
<line x1="21.7" y1="123.88" x2="24.3" y2="123.88" stroke="#333" stroke-width="0.9" />
<text x="20" y="126.13" font-size="6.4" text-anchor="end" fill="#262626">200</text>
<line x1="23.1" y1="119.33" x2="24.3" y2="119.33" stroke="#333" stroke-width="0.9" />
<line x1="23.1" y1="114.78" x2="24.3" y2="114.78" stroke="#333" stroke-width="0.9" />
<line x1="23.1" y1="110.23" x2="24.3" y2="110.23" stroke="#333" stroke-width="0.9" />
<line x1="23.1" y1="105.68" x2="24.3" y2="105.68" stroke="#333" stroke-width="0.9" />
<line x1="21.7" y1="101.13" x2="24.3" y2="101.13" stroke="#333" stroke-width="0.9" />
<text x="20" y="103.38" font-size="6.4" text-anchor="end" fill="#262626">250</text>
<line x1="23.1" y1="96.58" x2="24.3" y2="96.58" stroke="#333" stroke-width="0.9" />
<line x1="23.1" y1="92.04" x2="24.3" y2="92.04" stroke="#333" stroke-width="0.9" />
<line x1="23.1" y1="87.49" x2="24.3" y2="87.49" stroke="#333" stroke-width="0.9" />
<line x1="23.1" y1="82.94" x2="24.3" y2="82.94" stroke="#333" stroke-width="0.9" />
<line x1="21.7" y1="78.39" x2="24.3" y2="78.39" stroke="#333" stroke-width="0.9" />
<text x="20" y="80.64" font-size="6.4" text-anchor="end" fill="#262626">300</text>
<line x1="23.1" y1="73.84" x2="24.3" y2="73.84" stroke="#333" stroke-width="0.9" />
<line x1="23.1" y1="69.29" x2="24.3" y2="69.29" stroke="#333" stroke-width="0.9" />
<line x1="23.1" y1="64.74" x2="24.3" y2="64.74" stroke="#333" stroke-width="0.9" />
<line x1="23.1" y1="60.19" x2="24.3" y2="60.19" stroke="#333" stroke-width="0.9" />
<line x1="21.7" y1="55.64" x2="24.3" y2="55.64" stroke="#333" stroke-width="0.9" />
<text x="20" y="57.89" font-size="6.4" text-anchor="end" fill="#262626">350</text>
<line x1="23.1" y1="51.1" x2="24.3" y2="51.1" stroke="#333" stroke-width="0.9" />
<line x1="23.1" y1="46.55" x2="24.3" y2="46.55" stroke="#333" stroke-width="0.9" />
<line x1="23.1" y1="42" x2="24.3" y2="42" stroke="#333" stroke-width="0.9" />
<line x1="23.1" y1="37.45" x2="24.3" y2="37.45" stroke="#333" stroke-width="0.9" />
<line x1="21.7" y1="32.9" x2="24.3" y2="32.9" stroke="#333" stroke-width="0.9" />
<text x="20" y="35.15" font-size="6.4" text-anchor="end" fill="#262626">400</text>
<line x1="25.6" y1="239.6" x2="25.6" y2="242" stroke="#555" stroke-width="0.8" />
<text x="26.16" y="248.4" font-size="6.4" text-anchor="middle" fill="#262626">0.0</text>
<line x1="38.45" y1="239.6" x2="38.45" y2="240.9" stroke="#555" stroke-width="0.8" />
<line x1="51.3" y1="239.6" x2="51.3" y2="240.9" stroke="#555" stroke-width="0.8" />
<line x1="64.15" y1="239.6" x2="64.15" y2="240.9" stroke="#555" stroke-width="0.8" />
<line x1="77" y1="239.6" x2="77" y2="242" stroke="#555" stroke-width="0.8" />
<text x="77" y="248.4" font-size="6.4" text-anchor="middle" fill="#262626">2.0</text>
<line x1="89.85" y1="239.6" x2="89.85" y2="240.9" stroke="#555" stroke-width="0.8" />
<line x1="102.7" y1="239.6" x2="102.7" y2="240.9" stroke="#555" stroke-width="0.8" />
<line x1="115.55" y1="239.6" x2="115.55" y2="240.9" stroke="#555" stroke-width="0.8" />
<line x1="128.4" y1="239.6" x2="128.4" y2="242" stroke="#555" stroke-width="0.8" />
<text x="128.4" y="248.4" font-size="6.4" text-anchor="middle" fill="#262626">4.0</text>
<line x1="141.25" y1="239.6" x2="141.25" y2="240.9" stroke="#555" stroke-width="0.8" />
<line x1="154.1" y1="239.6" x2="154.1" y2="240.9" stroke="#555" stroke-width="0.8" />
<line x1="166.95" y1="239.6" x2="166.95" y2="240.9" stroke="#555" stroke-width="0.8" />
<line x1="179.8" y1="239.6" x2="179.8" y2="242" stroke="#555" stroke-width="0.8" />
<text x="179.8" y="248.4" font-size="6.4" text-anchor="middle" fill="#262626">6.0</text>
<line x1="192.65" y1="239.6" x2="192.65" y2="240.9" stroke="#555" stroke-width="0.8" />
<line x1="205.5" y1="239.6" x2="205.5" y2="240.9" stroke="#555" stroke-width="0.8" />
<line x1="218.35" y1="239.6" x2="218.35" y2="240.9" stroke="#555" stroke-width="0.8" />
<line x1="231.2" y1="239.6" x2="231.2" y2="242" stroke="#555" stroke-width="0.8" />
<text x="231.2" y="248.4" font-size="6.4" text-anchor="middle" fill="#262626">8.0</text>
<line x1="244.05" y1="239.6" x2="244.05" y2="240.9" stroke="#555" stroke-width="0.8" />
<line x1="256.9" y1="239.6" x2="256.9" y2="240.9" stroke="#555" stroke-width="0.8" />
<line x1="269.75" y1="239.6" x2="269.75" y2="240.9" stroke="#555" stroke-width="0.8" />
<line x1="282.6" y1="239.6" x2="282.6" y2="242" stroke="#555" stroke-width="0.8" />
<text x="282.6" y="248.4" font-size="6.4" text-anchor="middle" fill="#262626">10.0</text>
<line x1="295.45" y1="239.6" x2="295.45" y2="240.9" stroke="#555" stroke-width="0.8" />
<line x1="308.3" y1="239.6" x2="308.3" y2="240.9" stroke="#555" stroke-width="0.8" />
<line x1="321.15" y1="239.6" x2="321.15" y2="240.9" stroke="#555" stroke-width="0.8" />
<line x1="334" y1="239.6" x2="334" y2="242" stroke="#555" stroke-width="0.8" />
<text x="334" y="248.4" font-size="6.4" text-anchor="middle" fill="#262626">12.0</text>
<line x1="346.85" y1="239.6" x2="346.85" y2="240.9" stroke="#555" stroke-width="0.8" />
<line x1="359.7" y1="239.6" x2="359.7" y2="240.9" stroke="#555" stroke-width="0.8" />
<line x1="372.55" y1="239.6" x2="372.55" y2="240.9" stroke="#555" stroke-width="0.8" />
<line x1="385.4" y1="239.6" x2="385.4" y2="242" stroke="#555" stroke-width="0.8" />
<text x="385.4" y="248.4" font-size="6.4" text-anchor="middle" fill="#262626">14.0</text>
<line x1="398.25" y1="239.6" x2="398.25" y2="240.9" stroke="#555" stroke-width="0.8" />
<line x1="411.1" y1="239.6" x2="411.1" y2="242" stroke="#555" stroke-width="0.8" />
<text x="411.1" y="248.4" font-size="6.4" text-anchor="middle" fill="#262626">15.0</text>
<text x="5.9" y="135.05" font-size="6.6" text-anchor="middle" fill="#262626" textLength="54.5" lengthAdjust="spacingAndGlyphs" transform="rotate(-90 5.9 135.05)">Absorbance [mAU]</text>
<text x="214" y="255.4" font-size="6.6" text-anchor="middle" fill="#262626">min</text>
<path d="M25.6 214.52 L110.1 214.52 L110.35 214.53 L110.6 214.55 L110.85 214.58 L111.1 214.63 L111.35 214.72 L111.6 214.85 L111.85 215.03 L112.1 215.27 L112.35 215.55 L112.6 215.86 L112.85 216.14 L113.1 216.36 L113.35 216.49 L113.6 216.5 L113.85 216.39 L114.1 216.18 L114.35 215.9 L114.6 215.6 L114.85 215.31 L115.1 215.06 L115.35 214.87 L115.6 214.73 L115.85 214.63 L116.1 214.57 L116.35 214.54 L116.6 214.51 L116.85 214.49 L117.1 214.48 L117.35 214.45 L117.6 214.42 L117.85 214.39 L118.1 214.34 L118.35 214.28 L118.6 214.22 L118.85 214.15 L119.1 214.08 L119.35 214.01 L119.6 213.96 L119.85 213.92 L120.1 213.9 L120.35 213.9 L120.6 213.93 L120.85 213.97 L121.1 214.03 L121.35 214.09 L121.6 214.16 L121.85 214.23 L122.1 214.29 L122.35 214.34 L122.6 214.38 L122.85 214.41 L123.1 214.43 L123.35 214.45 L123.6 214.46 L123.85 214.46 L125.1 214.45 L125.35 214.45 L125.6 214.45 L125.85 214.44 L126.1 214.44 L126.35 214.43 L126.6 214.43 L126.85 214.42 L127.1 214.42 L127.35 214.41 L127.6 214.4 L127.85 214.39 L128.1 214.39 L128.35 214.38 L128.6 214.37 L128.85 214.36 L129.1 214.35 L129.35 214.34 L129.6 214.33 L129.85 214.32 L130.1 214.3 L130.35 214.29 L130.6 214.28 L130.85 214.26 L131.1 214.24 L131.35 214.23 L131.6 214.21 L131.85 214.19 L132.1 214.17 L132.35 214.14 L132.6 214.12 L132.85 214.09 L133.1 214.06 L133.35 214.04 L133.6 214 L133.85 213.97 L134.1 213.93 L134.35 213.89 L134.6 213.85 L134.85 213.81 L135.1 213.76 L135.35 213.7 L135.6 213.65 L135.85 213.59 L136.1 213.52 L136.35 213.45 L136.6 213.37 L136.85 213.29 L137.1 213.19 L137.35 213.09 L137.6 212.98 L137.85 212.86 L138.1 212.73 L138.35 212.59 L138.6 212.42 L138.85 212.25 L139.1 212.05 L139.35 211.83 L139.6 211.58 L139.85 211.3 L140.1 210.98 L140.35 210.62 L140.6 210.18 L140.85 209.66 L141.1 209.02 L141.35 208.2 L141.6 207.12 L141.85 205.67 L142.1 203.71 L142.35 201.03 L142.6 197.39 L142.85 192.52 L143.1 186.13 L143.35 177.93 L143.6 167.71 L143.85 155.37 L144.1 140.93 L144.35 124.67 L144.6 107.09 L144.85 89.04 L145.1 71.81 L145.35 57.23 L145.6 47.49 L145.85 44.51 L146.1 48.21 L146.35 57.44 L146.6 70.8 L146.85 86.62 L147.1 103.4 L147.35 119.96 L147.6 135.47 L147.85 149.42 L148.1 161.53 L148.35 171.73 L148.6 180.08 L148.85 186.76 L149.1 192 L149.35 196.04 L149.6 199.14 L149.85 201.5 L150.1 203.3 L150.35 204.7 L150.6 205.79 L150.85 206.68 L151.1 207.4 L151.35 208 L151.6 208.52 L151.85 208.96 L152.1 209.35 L152.35 209.69 L152.6 209.99 L152.85 210.26 L153.1 210.5 L153.35 210.71 L153.6 210.91 L153.85 211.09 L154.1 211.25 L154.35 211.4 L154.6 211.54 L154.85 211.68 L155.1 211.8 L155.35 211.92 L155.6 212.04 L155.85 212.15 L156.1 212.25 L156.35 212.36 L156.6 212.46 L156.85 212.56 L157.1 212.66 L157.35 212.76 L157.6 212.85 L157.85 212.94 L158.1 213.03 L158.35 213.12 L158.6 213.21 L158.85 213.29 L159.1 213.37 L159.35 213.45 L159.6 213.52 L159.85 213.59 L160.1 213.66 L160.35 213.72 L160.6 213.78 L160.85 213.84 L161.1 213.89 L161.35 213.94 L161.6 213.99 L161.85 214.03 L162.1 214.07 L162.35 214.11 L162.6 214.14 L162.85 214.17 L163.1 214.2 L163.35 214.23 L163.6 214.25 L163.85 214.27 L164.1 214.29 L164.35 214.31 L164.6 214.33 L164.85 214.34 L165.1 214.36 L165.35 214.37 L165.6 214.38 L165.85 214.39 L166.1 214.4 L166.35 214.41 L166.6 214.41 L166.85 214.42 L167.1 214.43 L167.35 214.43 L167.6 214.44 L167.85 214.44 L169.85 214.47 L171.85 214.49 L173.85 214.5 L175.85 214.51 L179.85 214.51 L411.1 214.52" fill="none" stroke="#262626" stroke-width="0.95" stroke-linejoin="round"/>
<line x1="135.1" y1="213.3" x2="158.1" y2="213.7" stroke="#e8383a" stroke-width="0.8" />
<line x1="135.1" y1="210" x2="135.1" y2="214.2" stroke="#4a55d8" stroke-width="0.9" />
<line x1="158.1" y1="213.3" x2="158.1" y2="216.9" stroke="#4a55d8" stroke-width="0.9" />
<line x1="145.22" y1="41.9" x2="145.62" y2="40.9" stroke="#6a6af0" stroke-width="0.9" />
<text x="147.6" y="42.5" font-size="5.3" fill="#262626">4.678</text>
<text x="467" y="23.7" font-size="29.2" font-weight="bold">B</text>
<clipPath id="cb"><rect x="500.6" y="30.5" width="400.8" height="208.7"/></clipPath>
<g clip-path="url(#cb)">
<path d="M500.6 224.72 L513.96 218.49 L527.32 212.19 L540.68 205.83 L554.04 199.38 L567.4 192.84 L580.76 186.19 L594.12 179.43 L607.48 172.56 L620.84 165.56 L634.2 158.43 L647.56 151.17 L660.92 143.79 L674.28 136.3 L687.64 128.7 L701 121 L714.36 113.21 L727.72 105.34 L741.08 97.41 L754.44 89.41 L767.8 81.37 L781.16 73.28 L794.52 65.15 L807.88 56.98 L821.24 48.79 L834.6 40.57 L847.96 32.32 L861.32 24.06 L874.68 15.78 L888.04 7.48 L901.4 -0.83" fill="none" stroke="#e0484a" stroke-width="0.9" />
<path d="M500.6 264.09 L513.96 255.86 L527.32 247.7 L540.68 239.6 L554.04 231.58 L567.4 223.66 L580.76 215.86 L594.12 208.19 L607.48 200.66 L620.84 193.3 L634.2 186.12 L647.56 179.11 L660.92 172.27 L674.28 165.6 L687.64 159.08 L701 152.69 L714.36 146.42 L727.72 140.24 L741.08 134.14 L754.44 128.11 L767.8 122.15 L781.16 116.22 L794.52 110.35 L807.88 104.5 L821.24 98.68 L834.6 92.89 L847.96 87.12 L861.32 81.37 L874.68 75.64 L888.04 69.91 L901.4 64.21" fill="none" stroke="#e0484a" stroke-width="0.9" />
<path d="M500.6 244.22 L513.96 237.12 L527.32 230.02 L540.68 222.93 L554.04 215.83 L567.4 208.73 L580.76 201.63 L594.12 194.54 L607.48 187.44 L620.84 180.34 L634.2 173.25 L647.56 166.15 L660.92 159.05 L674.28 151.95 L687.64 144.86 L701 137.76 L714.36 130.66 L727.72 123.57 L741.08 116.47 L754.44 109.37 L767.8 102.27 L781.16 95.18 L794.52 88.08 L807.88 80.98 L821.24 73.89 L834.6 66.79 L847.96 59.69 L861.32 52.59 L874.68 45.5 L888.04 38.4 L901.4 31.3" fill="none" stroke="#2e2e2e" stroke-width="0.95" />
</g>
<rect x="500.6" y="30.5" width="400.8" height="208.7" fill="none" stroke="#6e6e6e" stroke-width="1.1"/>
<line x1="499.5" y1="30.5" x2="499.5" y2="241" stroke="#bdbdbd" stroke-width="1.3" />
<line x1="498.5" y1="30.5" x2="498.5" y2="241.4" stroke="#777" stroke-width="0.7" />
<line x1="498.6" y1="240.4" x2="901.9" y2="240.4" stroke="#c4c4c4" stroke-width="1.4" />
<line x1="498.6" y1="241.3" x2="901.9" y2="241.3" stroke="#8a8a8a" stroke-width="0.6" />
<line x1="496.2" y1="239.2" x2="499.1" y2="239.2" stroke="#555" stroke-width="0.7" />
<text x="494.6" y="241.3" font-size="5.8" text-anchor="end" fill="#262626">0.0</text>
<line x1="497.4" y1="232.24" x2="499.1" y2="232.24" stroke="#555" stroke-width="0.7" />
<line x1="497.4" y1="225.29" x2="499.1" y2="225.29" stroke="#555" stroke-width="0.7" />
<line x1="497.4" y1="218.33" x2="499.1" y2="218.33" stroke="#555" stroke-width="0.7" />
<line x1="497.4" y1="211.37" x2="499.1" y2="211.37" stroke="#555" stroke-width="0.7" />
<line x1="496.2" y1="204.42" x2="499.1" y2="204.42" stroke="#555" stroke-width="0.7" />
<text x="494.6" y="206.52" font-size="5.8" text-anchor="end" fill="#262626">10.0</text>
<line x1="497.4" y1="197.46" x2="499.1" y2="197.46" stroke="#555" stroke-width="0.7" />
<line x1="497.4" y1="190.5" x2="499.1" y2="190.5" stroke="#555" stroke-width="0.7" />
<line x1="497.4" y1="183.55" x2="499.1" y2="183.55" stroke="#555" stroke-width="0.7" />
<line x1="497.4" y1="176.59" x2="499.1" y2="176.59" stroke="#555" stroke-width="0.7" />
<line x1="496.2" y1="169.63" x2="499.1" y2="169.63" stroke="#555" stroke-width="0.7" />
<text x="494.6" y="171.73" font-size="5.8" text-anchor="end" fill="#262626">20.0</text>
<line x1="497.4" y1="162.68" x2="499.1" y2="162.68" stroke="#555" stroke-width="0.7" />
<line x1="497.4" y1="155.72" x2="499.1" y2="155.72" stroke="#555" stroke-width="0.7" />
<line x1="497.4" y1="148.76" x2="499.1" y2="148.76" stroke="#555" stroke-width="0.7" />
<line x1="497.4" y1="141.81" x2="499.1" y2="141.81" stroke="#555" stroke-width="0.7" />
<line x1="496.2" y1="134.85" x2="499.1" y2="134.85" stroke="#555" stroke-width="0.7" />
<text x="494.6" y="136.95" font-size="5.8" text-anchor="end" fill="#262626">30.0</text>
<line x1="497.4" y1="127.89" x2="499.1" y2="127.89" stroke="#555" stroke-width="0.7" />
<line x1="497.4" y1="120.94" x2="499.1" y2="120.94" stroke="#555" stroke-width="0.7" />
<line x1="497.4" y1="113.98" x2="499.1" y2="113.98" stroke="#555" stroke-width="0.7" />
<line x1="497.4" y1="107.02" x2="499.1" y2="107.02" stroke="#555" stroke-width="0.7" />
<line x1="496.2" y1="100.07" x2="499.1" y2="100.07" stroke="#555" stroke-width="0.7" />
<text x="494.6" y="102.17" font-size="5.8" text-anchor="end" fill="#262626">40.0</text>
<line x1="497.4" y1="93.11" x2="499.1" y2="93.11" stroke="#555" stroke-width="0.7" />
<line x1="497.4" y1="86.15" x2="499.1" y2="86.15" stroke="#555" stroke-width="0.7" />
<line x1="497.4" y1="79.2" x2="499.1" y2="79.2" stroke="#555" stroke-width="0.7" />
<line x1="497.4" y1="72.24" x2="499.1" y2="72.24" stroke="#555" stroke-width="0.7" />
<line x1="496.2" y1="65.28" x2="499.1" y2="65.28" stroke="#555" stroke-width="0.7" />
<text x="494.6" y="67.38" font-size="5.8" text-anchor="end" fill="#262626">50.0</text>
<line x1="497.4" y1="58.33" x2="499.1" y2="58.33" stroke="#555" stroke-width="0.7" />
<line x1="497.4" y1="51.37" x2="499.1" y2="51.37" stroke="#555" stroke-width="0.7" />
<line x1="497.4" y1="44.41" x2="499.1" y2="44.41" stroke="#555" stroke-width="0.7" />
<line x1="497.4" y1="37.46" x2="499.1" y2="37.46" stroke="#555" stroke-width="0.7" />
<line x1="496.2" y1="30.5" x2="499.1" y2="30.5" stroke="#555" stroke-width="0.7" />
<text x="494.6" y="32.6" font-size="5.8" text-anchor="end" fill="#262626">60.0</text>
<line x1="500.6" y1="239.7" x2="500.6" y2="242.8" stroke="#555" stroke-width="0.7" />
<text x="500.6" y="249.4" font-size="5.9" text-anchor="middle" fill="#262626">0</text>
<line x1="508.95" y1="239.7" x2="508.95" y2="241.8" stroke="#555" stroke-width="0.7" />
<line x1="517.3" y1="239.7" x2="517.3" y2="241.8" stroke="#555" stroke-width="0.7" />
<line x1="525.65" y1="239.7" x2="525.65" y2="241.8" stroke="#555" stroke-width="0.7" />
<line x1="534" y1="239.7" x2="534" y2="242.8" stroke="#555" stroke-width="0.7" />
<text x="534" y="249.4" font-size="5.9" text-anchor="middle" fill="#262626">10</text>
<line x1="542.35" y1="239.7" x2="542.35" y2="241.8" stroke="#555" stroke-width="0.7" />
<line x1="550.7" y1="239.7" x2="550.7" y2="241.8" stroke="#555" stroke-width="0.7" />
<line x1="559.05" y1="239.7" x2="559.05" y2="241.8" stroke="#555" stroke-width="0.7" />
<line x1="567.4" y1="239.7" x2="567.4" y2="242.8" stroke="#555" stroke-width="0.7" />
<text x="567.4" y="249.4" font-size="5.9" text-anchor="middle" fill="#262626">20</text>
<line x1="575.75" y1="239.7" x2="575.75" y2="241.8" stroke="#555" stroke-width="0.7" />
<line x1="584.1" y1="239.7" x2="584.1" y2="241.8" stroke="#555" stroke-width="0.7" />
<line x1="592.45" y1="239.7" x2="592.45" y2="241.8" stroke="#555" stroke-width="0.7" />
<line x1="600.8" y1="239.7" x2="600.8" y2="242.8" stroke="#555" stroke-width="0.7" />
<text x="600.8" y="249.4" font-size="5.9" text-anchor="middle" fill="#262626">30</text>
<line x1="609.15" y1="239.7" x2="609.15" y2="241.8" stroke="#555" stroke-width="0.7" />
<line x1="617.5" y1="239.7" x2="617.5" y2="241.8" stroke="#555" stroke-width="0.7" />
<line x1="625.85" y1="239.7" x2="625.85" y2="241.8" stroke="#555" stroke-width="0.7" />
<line x1="634.2" y1="239.7" x2="634.2" y2="242.8" stroke="#555" stroke-width="0.7" />
<text x="634.2" y="249.4" font-size="5.9" text-anchor="middle" fill="#262626">40</text>
<line x1="642.55" y1="239.7" x2="642.55" y2="241.8" stroke="#555" stroke-width="0.7" />
<line x1="650.9" y1="239.7" x2="650.9" y2="241.8" stroke="#555" stroke-width="0.7" />
<line x1="659.25" y1="239.7" x2="659.25" y2="241.8" stroke="#555" stroke-width="0.7" />
<line x1="667.6" y1="239.7" x2="667.6" y2="242.8" stroke="#555" stroke-width="0.7" />
<text x="667.6" y="249.4" font-size="5.9" text-anchor="middle" fill="#262626">50</text>
<line x1="675.95" y1="239.7" x2="675.95" y2="241.8" stroke="#555" stroke-width="0.7" />
<line x1="684.3" y1="239.7" x2="684.3" y2="241.8" stroke="#555" stroke-width="0.7" />
<line x1="692.65" y1="239.7" x2="692.65" y2="241.8" stroke="#555" stroke-width="0.7" />
<line x1="701" y1="239.7" x2="701" y2="242.8" stroke="#555" stroke-width="0.7" />
<text x="701" y="249.4" font-size="5.9" text-anchor="middle" fill="#262626">60</text>
<line x1="709.35" y1="239.7" x2="709.35" y2="241.8" stroke="#555" stroke-width="0.7" />
<line x1="717.7" y1="239.7" x2="717.7" y2="241.8" stroke="#555" stroke-width="0.7" />
<line x1="726.05" y1="239.7" x2="726.05" y2="241.8" stroke="#555" stroke-width="0.7" />
<line x1="734.4" y1="239.7" x2="734.4" y2="242.8" stroke="#555" stroke-width="0.7" />
<text x="734.4" y="249.4" font-size="5.9" text-anchor="middle" fill="#262626">70</text>
<line x1="742.75" y1="239.7" x2="742.75" y2="241.8" stroke="#555" stroke-width="0.7" />
<line x1="751.1" y1="239.7" x2="751.1" y2="241.8" stroke="#555" stroke-width="0.7" />
<line x1="759.45" y1="239.7" x2="759.45" y2="241.8" stroke="#555" stroke-width="0.7" />
<line x1="767.8" y1="239.7" x2="767.8" y2="242.8" stroke="#555" stroke-width="0.7" />
<text x="767.8" y="249.4" font-size="5.9" text-anchor="middle" fill="#262626">80</text>
<line x1="776.15" y1="239.7" x2="776.15" y2="241.8" stroke="#555" stroke-width="0.7" />
<line x1="784.5" y1="239.7" x2="784.5" y2="241.8" stroke="#555" stroke-width="0.7" />
<line x1="792.85" y1="239.7" x2="792.85" y2="241.8" stroke="#555" stroke-width="0.7" />
<line x1="801.2" y1="239.7" x2="801.2" y2="242.8" stroke="#555" stroke-width="0.7" />
<text x="801.2" y="249.4" font-size="5.9" text-anchor="middle" fill="#262626">90</text>
<line x1="809.55" y1="239.7" x2="809.55" y2="241.8" stroke="#555" stroke-width="0.7" />
<line x1="817.9" y1="239.7" x2="817.9" y2="241.8" stroke="#555" stroke-width="0.7" />
<line x1="826.25" y1="239.7" x2="826.25" y2="241.8" stroke="#555" stroke-width="0.7" />
<line x1="834.6" y1="239.7" x2="834.6" y2="242.8" stroke="#555" stroke-width="0.7" />
<text x="834.6" y="249.4" font-size="5.9" text-anchor="middle" fill="#262626">100</text>
<line x1="842.95" y1="239.7" x2="842.95" y2="241.8" stroke="#555" stroke-width="0.7" />
<line x1="851.3" y1="239.7" x2="851.3" y2="241.8" stroke="#555" stroke-width="0.7" />
<line x1="859.65" y1="239.7" x2="859.65" y2="241.8" stroke="#555" stroke-width="0.7" />
<line x1="868" y1="239.7" x2="868" y2="242.8" stroke="#555" stroke-width="0.7" />
<text x="868" y="249.4" font-size="5.9" text-anchor="middle" fill="#262626">110</text>
<line x1="876.35" y1="239.7" x2="876.35" y2="241.8" stroke="#555" stroke-width="0.7" />
<line x1="884.7" y1="239.7" x2="884.7" y2="241.8" stroke="#555" stroke-width="0.7" />
<line x1="893.05" y1="239.7" x2="893.05" y2="241.8" stroke="#555" stroke-width="0.7" />
<line x1="901.4" y1="239.7" x2="901.4" y2="242.8" stroke="#555" stroke-width="0.7" />
<text x="901.4" y="249.4" font-size="5.9" text-anchor="middle" fill="#262626">120</text>
<text x="483.2" y="127" font-size="6.2" text-anchor="middle" fill="#262626" textLength="60.5" lengthAdjust="spacingAndGlyphs" transform="rotate(-90 483.2 127)">peak area(mAU*min)</text>
<text x="701.2" y="254.8" font-size="4.2" text-anchor="middle" fill="#555">µg/ml</text>
<text x="800.2" y="143.7" font-size="8.85" class="se" text-anchor="middle" fill="#222">y=0.5101x-1.4426</text>
<text x="798.9" y="153.3" font-size="8.85" class="se" text-anchor="middle" fill="#222">R<tspan font-size="5" dy="-3">2</tspan><tspan dy="3">=0.9961</tspan></text>
<line x1="501.4" y1="238.1" x2="506.6" y2="238.1" stroke="#3f86c8" stroke-width="0.9" />
<line x1="504" y1="235.5" x2="504" y2="240.7" stroke="#3f86c8" stroke-width="0.9" />
<line x1="531.2" y1="225.3" x2="536.4" y2="225.3" stroke="#3f86c8" stroke-width="0.9" />
<line x1="533.8" y1="222.7" x2="533.8" y2="227.9" stroke="#3f86c8" stroke-width="0.9" />
<line x1="581.7" y1="201.2" x2="586.9" y2="201.2" stroke="#3f86c8" stroke-width="0.9" />
<line x1="584.3" y1="198.6" x2="584.3" y2="203.8" stroke="#3f86c8" stroke-width="0.9" />
<line x1="665.1" y1="162.3" x2="670.3" y2="162.3" stroke="#3f86c8" stroke-width="0.9" />
<line x1="667.7" y1="159.7" x2="667.7" y2="164.9" stroke="#3f86c8" stroke-width="0.9" />
<path d="M832.1 63 l2.6 -2.4 l2.6 2.4 l-2.6 2.4 z" fill="#f5b50f"/>
<text x="972.2" y="24" font-size="29.2" font-weight="bold">C</text>
<line x1="958.5" y1="27" x2="958.5" y2="255" stroke="#ececec" stroke-width="0.8" />
<path d="M985.2 30.5 L1369.9 30.5 L1369.9 235.8 L985.2 235.8 L985.2 30" fill="none" stroke="#7d7d7d" stroke-width="1.1" />
<line x1="983.9" y1="30.5" x2="983.9" y2="238.2" stroke="#aaaaaa" stroke-width="1.7" />
<line x1="984.6" y1="236.85" x2="1370.4" y2="236.85" stroke="#dedede" stroke-width="1" />
<line x1="983.2" y1="237.8" x2="1370.4" y2="237.8" stroke="#999" stroke-width="0.9" />
<line x1="980.6" y1="235.8" x2="983.2" y2="235.8" stroke="#333" stroke-width="0.9" />
<text x="979.6" y="238.05" font-size="6.4" text-anchor="end" fill="#262626">-20</text>
<line x1="982" y1="229.93" x2="983.2" y2="229.93" stroke="#333" stroke-width="0.9" />
<line x1="982" y1="224.07" x2="983.2" y2="224.07" stroke="#333" stroke-width="0.9" />
<line x1="982" y1="218.2" x2="983.2" y2="218.2" stroke="#333" stroke-width="0.9" />
<line x1="982" y1="212.34" x2="983.2" y2="212.34" stroke="#333" stroke-width="0.9" />
<line x1="980.6" y1="206.47" x2="983.2" y2="206.47" stroke="#333" stroke-width="0.9" />
<text x="979.6" y="208.72" font-size="6.4" text-anchor="end" fill="#262626">0</text>
<line x1="982" y1="200.61" x2="983.2" y2="200.61" stroke="#333" stroke-width="0.9" />
<line x1="982" y1="194.74" x2="983.2" y2="194.74" stroke="#333" stroke-width="0.9" />
<line x1="982" y1="188.87" x2="983.2" y2="188.87" stroke="#333" stroke-width="0.9" />
<line x1="982" y1="183.01" x2="983.2" y2="183.01" stroke="#333" stroke-width="0.9" />
<line x1="980.6" y1="177.14" x2="983.2" y2="177.14" stroke="#333" stroke-width="0.9" />
<text x="979.6" y="179.39" font-size="6.4" text-anchor="end" fill="#262626">20</text>
<line x1="982" y1="171.28" x2="983.2" y2="171.28" stroke="#333" stroke-width="0.9" />
<line x1="982" y1="165.41" x2="983.2" y2="165.41" stroke="#333" stroke-width="0.9" />
<line x1="982" y1="159.55" x2="983.2" y2="159.55" stroke="#333" stroke-width="0.9" />
<line x1="982" y1="153.68" x2="983.2" y2="153.68" stroke="#333" stroke-width="0.9" />
<line x1="980.6" y1="147.81" x2="983.2" y2="147.81" stroke="#333" stroke-width="0.9" />
<text x="979.6" y="150.06" font-size="6.4" text-anchor="end" fill="#262626">40</text>
<line x1="982" y1="141.95" x2="983.2" y2="141.95" stroke="#333" stroke-width="0.9" />
<line x1="982" y1="136.08" x2="983.2" y2="136.08" stroke="#333" stroke-width="0.9" />
<line x1="982" y1="130.22" x2="983.2" y2="130.22" stroke="#333" stroke-width="0.9" />
<line x1="982" y1="124.35" x2="983.2" y2="124.35" stroke="#333" stroke-width="0.9" />
<line x1="980.6" y1="118.49" x2="983.2" y2="118.49" stroke="#333" stroke-width="0.9" />
<text x="979.6" y="120.74" font-size="6.4" text-anchor="end" fill="#262626">60</text>
<line x1="982" y1="112.62" x2="983.2" y2="112.62" stroke="#333" stroke-width="0.9" />
<line x1="982" y1="106.75" x2="983.2" y2="106.75" stroke="#333" stroke-width="0.9" />
<line x1="982" y1="100.89" x2="983.2" y2="100.89" stroke="#333" stroke-width="0.9" />
<line x1="982" y1="95.02" x2="983.2" y2="95.02" stroke="#333" stroke-width="0.9" />
<line x1="980.6" y1="89.16" x2="983.2" y2="89.16" stroke="#333" stroke-width="0.9" />
<text x="979.6" y="91.41" font-size="6.4" text-anchor="end" fill="#262626">80</text>
<line x1="982" y1="83.29" x2="983.2" y2="83.29" stroke="#333" stroke-width="0.9" />
<line x1="982" y1="77.43" x2="983.2" y2="77.43" stroke="#333" stroke-width="0.9" />
<line x1="982" y1="71.56" x2="983.2" y2="71.56" stroke="#333" stroke-width="0.9" />
<line x1="982" y1="65.69" x2="983.2" y2="65.69" stroke="#333" stroke-width="0.9" />
<line x1="980.6" y1="59.83" x2="983.2" y2="59.83" stroke="#333" stroke-width="0.9" />
<text x="979.6" y="62.08" font-size="6.4" text-anchor="end" fill="#262626">100</text>
<line x1="982" y1="53.96" x2="983.2" y2="53.96" stroke="#333" stroke-width="0.9" />
<line x1="982" y1="48.1" x2="983.2" y2="48.1" stroke="#333" stroke-width="0.9" />
<line x1="982" y1="42.23" x2="983.2" y2="42.23" stroke="#333" stroke-width="0.9" />
<line x1="982" y1="36.37" x2="983.2" y2="36.37" stroke="#333" stroke-width="0.9" />
<line x1="980.6" y1="30.5" x2="983.2" y2="30.5" stroke="#333" stroke-width="0.9" />
<text x="979.6" y="32.75" font-size="6.4" text-anchor="end" fill="#262626">120</text>
<line x1="985.2" y1="237.8" x2="985.2" y2="240.2" stroke="#555" stroke-width="0.8" />
<text x="985.2" y="246.6" font-size="6.4" text-anchor="middle" fill="#262626">0.0</text>
<line x1="998.02" y1="237.8" x2="998.02" y2="239.1" stroke="#555" stroke-width="0.8" />
<line x1="1010.85" y1="237.8" x2="1010.85" y2="239.1" stroke="#555" stroke-width="0.8" />
<line x1="1023.67" y1="237.8" x2="1023.67" y2="239.1" stroke="#555" stroke-width="0.8" />
<line x1="1036.49" y1="237.8" x2="1036.49" y2="240.2" stroke="#555" stroke-width="0.8" />
<text x="1036.49" y="246.6" font-size="6.4" text-anchor="middle" fill="#262626">2.0</text>
<line x1="1049.32" y1="237.8" x2="1049.32" y2="239.1" stroke="#555" stroke-width="0.8" />
<line x1="1062.14" y1="237.8" x2="1062.14" y2="239.1" stroke="#555" stroke-width="0.8" />
<line x1="1074.96" y1="237.8" x2="1074.96" y2="239.1" stroke="#555" stroke-width="0.8" />
<line x1="1087.79" y1="237.8" x2="1087.79" y2="240.2" stroke="#555" stroke-width="0.8" />
<text x="1087.79" y="246.6" font-size="6.4" text-anchor="middle" fill="#262626">4.0</text>
<line x1="1100.61" y1="237.8" x2="1100.61" y2="239.1" stroke="#555" stroke-width="0.8" />
<line x1="1113.43" y1="237.8" x2="1113.43" y2="239.1" stroke="#555" stroke-width="0.8" />
<line x1="1126.26" y1="237.8" x2="1126.26" y2="239.1" stroke="#555" stroke-width="0.8" />
<line x1="1139.08" y1="237.8" x2="1139.08" y2="240.2" stroke="#555" stroke-width="0.8" />
<text x="1139.08" y="246.6" font-size="6.4" text-anchor="middle" fill="#262626">6.0</text>
<line x1="1151.9" y1="237.8" x2="1151.9" y2="239.1" stroke="#555" stroke-width="0.8" />
<line x1="1164.73" y1="237.8" x2="1164.73" y2="239.1" stroke="#555" stroke-width="0.8" />
<line x1="1177.55" y1="237.8" x2="1177.55" y2="239.1" stroke="#555" stroke-width="0.8" />
<line x1="1190.37" y1="237.8" x2="1190.37" y2="240.2" stroke="#555" stroke-width="0.8" />
<text x="1190.37" y="246.6" font-size="6.4" text-anchor="middle" fill="#262626">8.0</text>
<line x1="1203.2" y1="237.8" x2="1203.2" y2="239.1" stroke="#555" stroke-width="0.8" />
<line x1="1216.02" y1="237.8" x2="1216.02" y2="239.1" stroke="#555" stroke-width="0.8" />
<line x1="1228.84" y1="237.8" x2="1228.84" y2="239.1" stroke="#555" stroke-width="0.8" />
<line x1="1241.67" y1="237.8" x2="1241.67" y2="240.2" stroke="#555" stroke-width="0.8" />
<text x="1241.67" y="246.6" font-size="6.4" text-anchor="middle" fill="#262626">10.0</text>
<line x1="1254.49" y1="237.8" x2="1254.49" y2="239.1" stroke="#555" stroke-width="0.8" />
<line x1="1267.31" y1="237.8" x2="1267.31" y2="239.1" stroke="#555" stroke-width="0.8" />
<line x1="1280.14" y1="237.8" x2="1280.14" y2="239.1" stroke="#555" stroke-width="0.8" />
<line x1="1292.96" y1="237.8" x2="1292.96" y2="240.2" stroke="#555" stroke-width="0.8" />
<text x="1292.96" y="246.6" font-size="6.4" text-anchor="middle" fill="#262626">12.0</text>
<line x1="1305.78" y1="237.8" x2="1305.78" y2="239.1" stroke="#555" stroke-width="0.8" />
<line x1="1318.61" y1="237.8" x2="1318.61" y2="239.1" stroke="#555" stroke-width="0.8" />
<line x1="1331.43" y1="237.8" x2="1331.43" y2="239.1" stroke="#555" stroke-width="0.8" />
<line x1="1344.25" y1="237.8" x2="1344.25" y2="240.2" stroke="#555" stroke-width="0.8" />
<text x="1344.25" y="246.6" font-size="6.4" text-anchor="middle" fill="#262626">14.0</text>
<line x1="1357.08" y1="237.8" x2="1357.08" y2="239.1" stroke="#555" stroke-width="0.8" />
<line x1="1369.9" y1="237.8" x2="1369.9" y2="240.2" stroke="#555" stroke-width="0.8" />
<text x="1369.9" y="246.6" font-size="6.4" text-anchor="middle" fill="#262626">15.0</text>
<text x="964.6" y="132.95" font-size="6.6" text-anchor="middle" fill="#262626" textLength="54.5" lengthAdjust="spacingAndGlyphs" transform="rotate(-90 964.6 132.95)">Absorbance [mAU]</text>
<text x="1172.4" y="253.6" font-size="6.6" text-anchor="middle" fill="#262626">min</text>
<path d="M985.2 206.47 L1068.95 206.47 L1069.2 206.48 L1069.45 206.5 L1069.7 206.53 L1069.95 206.61 L1070.2 206.76 L1070.45 207.02 L1070.7 207.43 L1070.95 208.03 L1071.2 208.82 L1071.45 209.74 L1071.7 210.7 L1071.95 211.54 L1072.2 212.12 L1072.45 212.31 L1072.7 212.09 L1072.95 211.54 L1073.2 210.78 L1073.45 209.97 L1073.7 209.24 L1073.95 208.68 L1074.2 208.31 L1074.45 208.1 L1074.7 208.01 L1074.95 207.98 L1075.2 207.98 L1075.45 207.98 L1075.7 207.95 L1075.95 207.89 L1076.2 207.81 L1076.45 207.7 L1076.7 207.57 L1076.95 207.42 L1077.2 207.27 L1077.45 207.11 L1077.7 206.94 L1077.95 206.76 L1078.2 206.56 L1078.45 206.33 L1078.7 206.06 L1078.95 205.74 L1079.2 205.39 L1079.45 205 L1079.7 204.62 L1079.95 204.28 L1080.2 204.01 L1080.45 203.86 L1080.7 203.83 L1080.95 203.94 L1081.2 204.16 L1081.45 204.47 L1081.7 204.81 L1081.95 205.16 L1082.2 205.47 L1082.45 205.74 L1082.7 205.93 L1082.95 206.07 L1083.2 206.15 L1083.45 206.18 L1083.7 206.17 L1083.95 206.13 L1084.2 206.05 L1084.45 205.94 L1084.7 205.82 L1084.95 205.67 L1085.2 205.51 L1085.45 205.35 L1085.7 205.2 L1085.95 205.07 L1086.2 204.98 L1086.45 204.93 L1086.7 204.93 L1086.95 204.97 L1087.2 205.05 L1087.45 205.16 L1087.7 205.29 L1087.95 205.42 L1088.2 205.54 L1088.45 205.65 L1088.7 205.73 L1088.95 205.8 L1089.2 205.84 L1089.45 205.86 L1089.7 205.86 L1089.95 205.85 L1090.2 205.82 L1090.45 205.79 L1090.7 205.74 L1090.95 205.69 L1091.2 205.63 L1091.45 205.57 L1091.7 205.49 L1091.95 205.41 L1092.2 205.32 L1092.45 205.23 L1092.7 205.12 L1092.95 205.01 L1093.2 204.89 L1093.45 204.76 L1093.7 204.63 L1093.95 204.49 L1094.2 204.35 L1094.45 204.21 L1094.7 204.07 L1094.95 203.92 L1095.2 203.77 L1095.45 203.63 L1095.7 203.48 L1095.95 203.33 L1096.2 203.17 L1096.45 203.01 L1096.7 202.85 L1096.95 202.67 L1097.2 202.47 L1097.45 202.26 L1097.7 202.02 L1097.95 201.76 L1098.2 201.46 L1098.45 201.13 L1098.7 200.74 L1098.95 200.27 L1099.2 199.71 L1099.45 199.01 L1099.7 198.11 L1099.95 196.92 L1100.2 195.33 L1100.45 193.19 L1100.7 190.3 L1100.95 186.45 L1101.2 181.4 L1101.45 174.9 L1101.7 166.76 L1101.95 156.85 L1102.2 145.17 L1102.45 131.88 L1102.7 117.33 L1102.95 102.09 L1103.2 86.9 L1103.45 72.65 L1103.7 60.26 L1103.95 50.62 L1104.2 44.46 L1104.45 42.26 L1104.7 44.2 L1104.95 50.09 L1105.2 59.48 L1105.45 71.63 L1105.7 85.7 L1105.95 100.74 L1106.2 115.89 L1106.45 130.39 L1106.7 143.68 L1106.95 155.38 L1107.2 165.34 L1107.45 173.54 L1107.7 180.1 L1107.95 185.21 L1108.2 189.11 L1108.45 192.05 L1108.7 194.23 L1108.95 195.86 L1109.2 197.07 L1109.45 198 L1109.7 198.73 L1109.95 199.31 L1110.2 199.8 L1110.45 200.22 L1110.7 200.58 L1110.95 200.9 L1111.2 201.2 L1111.45 201.46 L1111.7 201.71 L1111.95 201.94 L1112.2 202.15 L1112.45 202.35 L1112.7 202.54 L1112.95 202.71 L1113.2 202.88 L1113.45 203.05 L1113.7 203.2 L1113.95 203.35 L1114.2 203.5 L1114.45 203.64 L1114.7 203.77 L1114.95 203.91 L1115.2 204.04 L1115.45 204.17 L1115.7 204.29 L1115.95 204.41 L1116.2 204.53 L1116.45 204.64 L1116.7 204.75 L1116.95 204.86 L1117.2 204.96 L1117.45 205.06 L1117.7 205.16 L1117.95 205.25 L1118.2 205.33 L1118.45 205.41 L1118.7 205.49 L1118.95 205.56 L1119.2 205.63 L1119.45 205.69 L1119.7 205.75 L1119.95 205.81 L1120.2 205.86 L1120.45 205.91 L1120.7 205.95 L1120.95 205.99 L1121.2 206.03 L1121.45 206.06 L1121.7 206.09 L1121.95 206.12 L1122.2 206.15 L1122.45 206.17 L1122.7 206.19 L1122.95 206.21 L1123.2 206.23 L1123.45 206.25 L1123.7 206.26 L1123.95 206.28 L1124.2 206.29 L1124.45 206.3 L1124.7 206.32 L1124.95 206.33 L1125.2 206.34 L1125.45 206.34 L1125.7 206.35 L1125.95 206.36 L1126.2 206.36 L1126.45 206.37 L1126.7 206.38 L1128.7 206.36 L1128.95 206.35 L1129.2 206.34 L1129.45 206.32 L1129.7 206.3 L1129.95 206.27 L1130.2 206.24 L1130.45 206.2 L1130.7 206.16 L1130.95 206.11 L1131.2 206.05 L1131.45 206 L1131.7 205.93 L1131.95 205.86 L1132.2 205.79 L1132.45 205.72 L1132.7 205.65 L1132.95 205.57 L1133.2 205.5 L1133.45 205.43 L1133.7 205.37 L1133.95 205.31 L1134.2 205.26 L1134.45 205.22 L1134.7 205.19 L1134.95 205.17 L1135.2 205.16 L1135.45 205.17 L1135.7 205.19 L1135.95 205.21 L1136.2 205.25 L1136.45 205.3 L1136.7 205.36 L1136.95 205.42 L1137.2 205.49 L1137.45 205.56 L1137.7 205.64 L1137.95 205.71 L1138.2 205.79 L1138.45 205.86 L1138.7 205.93 L1138.95 206 L1139.2 206.06 L1139.45 206.12 L1139.7 206.17 L1139.95 206.22 L1140.2 206.26 L1140.45 206.3 L1140.7 206.33 L1140.95 206.35 L1141.2 206.38 L1141.45 206.4 L1141.7 206.41 L1141.95 206.42 L1142.2 206.43 L1142.45 206.44 L1142.7 206.45 L1142.95 206.45 L1143.2 206.46 L1143.45 206.46 L1145.45 206.47 L1147.45 206.47 L1149.45 206.46 L1151.45 206.42 L1153.45 206.35 L1153.7 206.34 L1153.95 206.32 L1154.2 206.31 L1154.45 206.3 L1154.7 206.28 L1154.95 206.27 L1155.2 206.25 L1155.45 206.24 L1155.7 206.22 L1155.95 206.21 L1156.2 206.19 L1156.45 206.18 L1156.7 206.16 L1156.95 206.15 L1157.2 206.14 L1157.45 206.13 L1157.7 206.11 L1157.95 206.1 L1158.2 206.1 L1158.45 206.09 L1158.7 206.08 L1158.95 206.08 L1159.45 206.07 L1160.2 206.08 L1160.45 206.08 L1160.7 206.09 L1160.95 206.09 L1161.2 206.1 L1161.45 206.11 L1161.7 206.12 L1161.95 206.13 L1162.2 206.15 L1162.45 206.16 L1162.7 206.18 L1162.95 206.19 L1163.2 206.2 L1163.45 206.22 L1163.7 206.24 L1163.95 206.25 L1164.2 206.27 L1164.45 206.28 L1164.7 206.29 L1164.95 206.31 L1165.2 206.32 L1165.45 206.33 L1165.7 206.35 L1165.95 206.36 L1166.2 206.37 L1166.45 206.38 L1166.7 206.39 L1166.95 206.4 L1167.2 206.41 L1167.45 206.41 L1167.7 206.42 L1169.7 206.45 L1171.7 206.47 L1177.7 206.47 L1369.9 206.47" fill="none" stroke="#262626" stroke-width="0.95" stroke-linejoin="round"/>
<line x1="1093.8" y1="205" x2="1116.9" y2="204.8" stroke="#e8383a" stroke-width="0.8" />
<line x1="1093.8" y1="201.8" x2="1093.8" y2="205.8" stroke="#4a55d8" stroke-width="0.9" />
<line x1="1116.9" y1="204.5" x2="1116.9" y2="207.9" stroke="#4a55d8" stroke-width="0.9" />
<line x1="1103.86" y1="39.7" x2="1104.26" y2="38.7" stroke="#6a6af0" stroke-width="0.9" />
<text x="1105.8" y="41.2" font-size="5.3" fill="#262626">4.650</text>
<text x="0.1" y="356.8" font-size="29.2" font-weight="bold">D</text>
<rect x="125.8" y="350" width="47.9" height="203" fill="#7da0d6" stroke="#214f8f" stroke-width="3.6"/>
<line x1="128.2" y1="350" x2="128.2" y2="551" stroke="#2f62a8" stroke-width="1" opacity="0.55"/>
<line x1="171.3" y1="350" x2="171.3" y2="551" stroke="#2f62a8" stroke-width="1" opacity="0.55"/>
<line x1="149.8" y1="554.5" x2="149.8" y2="559.5" stroke="#3f68b0" stroke-width="1.1" />
<line x1="137.4" y1="559.5" x2="162.2" y2="559.5" stroke="#3f68b0" stroke-width="1.1" />
<rect x="202.8" y="350" width="47.3" height="126.7" fill="#a78bd6" stroke="#4a2a8c" stroke-width="3.6"/>
<line x1="226.5" y1="478" x2="226.5" y2="481.5" stroke="#6a3fb0" stroke-width="1.1" />
<line x1="213.7" y1="481.5" x2="239.1" y2="481.5" stroke="#6a3fb0" stroke-width="1.1" />
<line x1="86.9" y1="350" x2="278" y2="350" stroke="#000" stroke-width="2.5" />
<line x1="98.6" y1="348.75" x2="98.6" y2="618.15" stroke="#000" stroke-width="2.5" />
<line x1="86.9" y1="616.9" x2="278.1" y2="616.9" stroke="#000" stroke-width="2.5" />
<line x1="86.9" y1="416.7" x2="98.6" y2="416.7" stroke="#000" stroke-width="2.5" />
<line x1="86.9" y1="483.4" x2="98.6" y2="483.4" stroke="#000" stroke-width="2.5" />
<line x1="86.9" y1="550.1" x2="98.6" y2="550.1" stroke="#000" stroke-width="2.5" />
<text x="83.5" y="356.2" font-size="17.4" font-weight="bold" text-anchor="end">0</text>
<text x="83.5" y="422.9" font-size="17.4" font-weight="bold" text-anchor="end" textLength="27.6" lengthAdjust="spacingAndGlyphs">-10</text>
<text x="83.5" y="489.6" font-size="17.4" font-weight="bold" text-anchor="end" textLength="27.6" lengthAdjust="spacingAndGlyphs">-20</text>
<text x="83.5" y="556.3" font-size="17.4" font-weight="bold" text-anchor="end" textLength="27.6" lengthAdjust="spacingAndGlyphs">-30</text>
<text x="83.5" y="623" font-size="17.4" font-weight="bold" text-anchor="end" textLength="27.6" lengthAdjust="spacingAndGlyphs">-40</text>
<line x1="149.5" y1="616.9" x2="149.5" y2="628.6" stroke="#000" stroke-width="2.5" />
<line x1="225.8" y1="616.9" x2="225.8" y2="628.6" stroke="#000" stroke-width="2.5" />
<text x="149.2" y="650.3" font-size="18.6" font-weight="bold" text-anchor="middle" textLength="41.2" lengthAdjust="spacingAndGlyphs">HCS</text>
<text x="225.7" y="650.3" font-size="18.6" font-weight="bold" text-anchor="middle" textLength="92" lengthAdjust="spacingAndGlyphs">HCS-DOX</text>
<g transform="translate(40.4 584) rotate(-90)"><text x="0" y="0" font-size="21.6" font-weight="bold" textLength="144.5" lengthAdjust="spacingAndGlyphs">Zeta potential</text><text x="148.0" y="0" font-size="21.6" font-weight="normal">(</text><text x="157.0" y="0" font-size="21.6" font-weight="bold" textLength="30.5" lengthAdjust="spacingAndGlyphs">mV</text><text x="192.0" y="0" font-size="21.6" font-weight="normal">)</text></g>
<text x="460.7" y="356.8" font-size="29.2" font-weight="bold">E</text>
<g transform="translate(462.1 384.6)" clip-path="url(#ic)"><rect width="183" height="183" fill="url(#bfg)"/>
<rect width="183" height="183" fill="url(#bfd)"/>
<rect width="183" height="183" fill="url(#bfl)"/>
<rect width="183" height="183" fill="url(#bfc)"/>
<g filter="url(#wob)">
<use href="#bfcells" fill="#4a4a4a" fill-opacity="0.10" filter="url(#fs)"/>
<use href="#bfcells" filter="url(#fbd)"/>
<use href="#bfcells" filter="url(#fbl)"/>
<use href="#bfout"/>
</g>
<use href="#bfdeb"/></g>
<g transform="translate(655.4 384.6)" clip-path="url(#ic)"><rect width="183" height="183" fill="#000"/><g filter="url(#wob)"><use href="#grn" filter="url(#fg)"/></g></g>
<g transform="translate(848.5 384.6)" clip-path="url(#ic)"><rect width="183" height="183" fill="#000004"/><g filter="url(#wob)"><use href="#blub" filter="url(#fb)"/></g></g>
<g transform="translate(1042.3 384.6)" clip-path="url(#ic)"><rect width="183" height="183" fill="#030000"/><g filter="url(#wob)"><use href="#redb" filter="url(#fr)"/></g><use href="#redsolid" fill="#ff1010" filter="url(#fs)"/></g>
<g transform="translate(1235.7 384.6)" clip-path="url(#ic)"><rect width="183" height="183" fill="url(#bfg)"/>
<rect width="183" height="183" fill="url(#bfd)"/>
<rect width="183" height="183" fill="url(#bfl)"/>
<rect width="183" height="183" fill="url(#bfc)"/>
<g filter="url(#wob)">
<use href="#bfcells" fill="#4a4a4a" fill-opacity="0.10" filter="url(#fs)"/>
<use href="#bfcells" filter="url(#fbd)"/>
<use href="#bfcells" filter="url(#fbl)"/>
<use href="#bfout"/>
</g>
<use href="#bfdeb"/>
<rect width="183" height="183" fill="#000" fill-opacity="0.17"/>
<g filter="url(#wob)"><use href="#redb" filter="url(#fr)" opacity="0.9"/></g>
<g style="mix-blend-mode:screen"><g filter="url(#wob)"><use href="#redb" filter="url(#fr)" opacity="0.95"/></g></g>
<g filter="url(#wob)"><use href="#blub" filter="url(#fb)" opacity="0.3"/></g>
<g style="mix-blend-mode:screen"><g filter="url(#wob)"><use href="#blub" filter="url(#fb)" opacity="0.7"/></g></g>
<g filter="url(#wob)"><use href="#grn2" filter="url(#fg)" opacity="0.95"/></g>
<use href="#redsolid" fill="#ff2a08" filter="url(#fs)"/>
<circle cx="37.86" cy="165.67" r="4.3" fill="#ff3a10" filter="url(#fs)"/>
<circle cx="36.46" cy="165.87" r="2.6" fill="#ffd028" fill-opacity="0.8" filter="url(#fs)"/>
<rect x="149.1" y="171.4" width="16.9" height="1.9" fill="#fff"/>
<text x="157.6" y="180.6" font-size="7" class="se" text-anchor="middle" fill="#fff">20µm</text></g>
<text x="549.9" y="598" font-size="21.2" class="se" text-anchor="middle" fill="#111">Bright field</text>
<text x="745" y="598" font-size="21.2" class="se" text-anchor="middle" fill="#111">DIO</text>
<text x="940.6" y="598" font-size="21.2" class="se" text-anchor="middle" fill="#111">DAPI</text>
<text x="1136" y="598" font-size="21.2" class="se" text-anchor="middle" fill="#111">DOX</text>
<text x="1331" y="598" font-size="21.2" class="se" text-anchor="middle" fill="#111">Merge</text>
<text x="455.4" y="470.3" font-size="20.4" class="se" text-anchor="middle" fill="#111" transform="rotate(-90 455.4 470.3)">HCS</text>
<text x="1.8" y="691.2" font-size="29.2" font-weight="bold">F</text>
<rect x="102.4" y="800.6" width="29.6" height="150.6" fill="#000"/>
<line x1="117.2" y1="801.1" x2="117.2" y2="794.8" stroke="#000" stroke-width="1.25" />
<line x1="109.5" y1="794.8" x2="123.6" y2="794.8" stroke="#000" stroke-width="1.25" />
<rect x="148.95" y="739.45" width="26.1" height="211.15" fill="#e8a860" stroke="#4f3d2c" stroke-width="3.5"/>
<line x1="162" y1="738.2" x2="162" y2="728.9" stroke="#4f3d2c" stroke-width="1.25" />
<line x1="154.5" y1="728.9" x2="169.1" y2="728.9" stroke="#4f3d2c" stroke-width="1.25" />
<rect x="193.75" y="752.75" width="26.1" height="197.85" fill="#9cb4d6" stroke="#1d3f70" stroke-width="3.5"/>
<line x1="206.8" y1="751.5" x2="206.8" y2="739.5" stroke="#1d3f70" stroke-width="1.25" />
<line x1="199.5" y1="739.5" x2="214" y2="739.5" stroke="#1d3f70" stroke-width="1.25" />
<rect x="238.55" y="762.15" width="26.1" height="188.45" fill="#e7928b" stroke="#b42626" stroke-width="3.5"/>
<line x1="251.6" y1="760.9" x2="251.6" y2="741" stroke="#b42626" stroke-width="1.25" />
<line x1="244.3" y1="741" x2="258.8" y2="741" stroke="#b42626" stroke-width="1.25" />
<rect x="283.45" y="766.75" width="26.1" height="183.85" fill="#bec1c3" stroke="#85817a" stroke-width="3.5"/>
<line x1="296.5" y1="765.5" x2="296.5" y2="746.6" stroke="#85817a" stroke-width="1.25" />
<line x1="289.3" y1="746.6" x2="303.9" y2="746.6" stroke="#85817a" stroke-width="1.25" />
<line x1="87.4" y1="709.8" x2="87.4" y2="952.3" stroke="#000" stroke-width="2.2" />
<line x1="77.2" y1="951.2" x2="327.4" y2="951.2" stroke="#000" stroke-width="2.2" />
<line x1="77.1" y1="951.2" x2="87.4" y2="951.2" stroke="#000" stroke-width="2.2" />
<text x="72.8" y="956.95" font-size="16.2" font-weight="bold" text-anchor="end">0</text>
<line x1="77.1" y1="911.15" x2="87.4" y2="911.15" stroke="#000" stroke-width="2.2" />
<text x="72.8" y="916.9" font-size="16.2" font-weight="bold" text-anchor="end">20</text>
<line x1="77.1" y1="871.1" x2="87.4" y2="871.1" stroke="#000" stroke-width="2.2" />
<text x="72.8" y="876.85" font-size="16.2" font-weight="bold" text-anchor="end">40</text>
<line x1="77.1" y1="831.05" x2="87.4" y2="831.05" stroke="#000" stroke-width="2.2" />
<text x="72.8" y="836.8" font-size="16.2" font-weight="bold" text-anchor="end">60</text>
<line x1="77.1" y1="791" x2="87.4" y2="791" stroke="#000" stroke-width="2.2" />
<text x="72.8" y="796.75" font-size="16.2" font-weight="bold" text-anchor="end">80</text>
<line x1="77.1" y1="750.95" x2="87.4" y2="750.95" stroke="#000" stroke-width="2.2" />
<text x="72.8" y="756.7" font-size="16.2" font-weight="bold" text-anchor="end">100</text>
<line x1="77.1" y1="710.9" x2="87.4" y2="710.9" stroke="#000" stroke-width="2.2" />
<text x="72.8" y="716.65" font-size="16.2" font-weight="bold" text-anchor="end">120</text>
<line x1="116.9" y1="951.2" x2="116.9" y2="961" stroke="#000" stroke-width="2.2" />
<text x="116.9" y="979.9" font-size="16.2" font-weight="bold" text-anchor="middle">100</text>
<line x1="161.8" y1="951.2" x2="161.8" y2="961" stroke="#000" stroke-width="2.2" />
<text x="161.8" y="979.9" font-size="16.2" font-weight="bold" text-anchor="middle">200</text>
<line x1="206.7" y1="951.2" x2="206.7" y2="961" stroke="#000" stroke-width="2.2" />
<text x="206.7" y="979.9" font-size="16.2" font-weight="bold" text-anchor="middle">300</text>
<line x1="251.5" y1="951.2" x2="251.5" y2="961" stroke="#000" stroke-width="2.2" />
<text x="251.5" y="979.9" font-size="16.2" font-weight="bold" text-anchor="middle">400</text>
<line x1="296.3" y1="951.2" x2="296.3" y2="961" stroke="#000" stroke-width="2.2" />
<text x="296.3" y="979.9" font-size="16.2" font-weight="bold" text-anchor="middle">500</text>
<text x="31.8" y="830.7" font-size="19.8" class="se" font-weight="bold" text-anchor="middle" textLength="259" lengthAdjust="spacingAndGlyphs" transform="rotate(-90 31.8 830.7)">Doxorubicin Hydrochloride(ug)</text>
<text x="4.2" y="1009.6" font-size="19" class="se" font-weight="bold" textLength="404.5" lengthAdjust="spacingAndGlyphs">Doxorubicin Hydrochloride concentration(ug/ml)</text>
<text x="522.9" y="692.2" font-size="29.2" font-weight="bold">G</text>
<rect x="586.3" y="788.5" width="24.8" height="162.7" fill="#000"/>
<line x1="598.7" y1="789" x2="598.7" y2="787.6" stroke="#000" stroke-width="1.25" />
<line x1="593" y1="787.6" x2="604.5" y2="787.6" stroke="#000" stroke-width="1.25" />
<rect x="625.65" y="766.75" width="21.3" height="183.85" fill="#e8a860" stroke="#4f3d2c" stroke-width="3.5"/>
<line x1="636.3" y1="765.5" x2="636.3" y2="761.1" stroke="#4f3d2c" stroke-width="1.25" />
<line x1="630.8" y1="761.1" x2="641.9" y2="761.1" stroke="#4f3d2c" stroke-width="1.25" />
<rect x="663.35" y="760.65" width="21.3" height="189.95" fill="#9cb4d6" stroke="#1d3f70" stroke-width="3.5"/>
<line x1="674" y1="759.4" x2="674" y2="757.5" stroke="#1d3f70" stroke-width="1.25" />
<line x1="668.3" y1="757.5" x2="679.7" y2="757.5" stroke="#1d3f70" stroke-width="1.25" />
<rect x="701.15" y="749.25" width="21.3" height="201.35" fill="#e7928b" stroke="#b42626" stroke-width="3.5"/>
<line x1="711.8" y1="748" x2="711.8" y2="745.3" stroke="#b42626" stroke-width="1.25" />
<line x1="706.6" y1="745.3" x2="717.2" y2="745.3" stroke="#b42626" stroke-width="1.25" />
<rect x="738.95" y="741.35" width="21.3" height="209.25" fill="#bec1c3" stroke="#85817a" stroke-width="3.5"/>
<line x1="749.6" y1="740.1" x2="749.6" y2="737.4" stroke="#85817a" stroke-width="1.25" />
<line x1="744.4" y1="737.4" x2="755.5" y2="737.4" stroke="#85817a" stroke-width="1.25" />
<rect x="776.55" y="746.55" width="21.3" height="204.05" fill="#f3cdbf" stroke="#6f4a3a" stroke-width="3.5"/>
<line x1="787.2" y1="745.3" x2="787.2" y2="741.1" stroke="#6f4a3a" stroke-width="1.25" />
<line x1="782.2" y1="741.1" x2="793.3" y2="741.1" stroke="#6f4a3a" stroke-width="1.25" />
<line x1="573.5" y1="709.6" x2="573.5" y2="952.3" stroke="#000" stroke-width="2.2" />
<line x1="563.2" y1="951.2" x2="814.4" y2="951.2" stroke="#000" stroke-width="2.2" />
<line x1="563.2" y1="951.2" x2="573.5" y2="951.2" stroke="#000" stroke-width="2.2" />
<text x="558.9" y="956.95" font-size="16.2" font-weight="bold" text-anchor="end">0</text>
<line x1="563.2" y1="911.12" x2="573.5" y2="911.12" stroke="#000" stroke-width="2.2" />
<text x="558.9" y="916.87" font-size="16.2" font-weight="bold" text-anchor="end">20</text>
<line x1="563.2" y1="871.03" x2="573.5" y2="871.03" stroke="#000" stroke-width="2.2" />
<text x="558.9" y="876.78" font-size="16.2" font-weight="bold" text-anchor="end">40</text>
<line x1="563.2" y1="830.95" x2="573.5" y2="830.95" stroke="#000" stroke-width="2.2" />
<text x="558.9" y="836.7" font-size="16.2" font-weight="bold" text-anchor="end">60</text>
<line x1="563.2" y1="790.87" x2="573.5" y2="790.87" stroke="#000" stroke-width="2.2" />
<text x="558.9" y="796.62" font-size="16.2" font-weight="bold" text-anchor="end">80</text>
<line x1="563.2" y1="750.78" x2="573.5" y2="750.78" stroke="#000" stroke-width="2.2" />
<text x="558.9" y="756.53" font-size="16.2" font-weight="bold" text-anchor="end">100</text>
<line x1="563.2" y1="710.7" x2="573.5" y2="710.7" stroke="#000" stroke-width="2.2" />
<text x="558.9" y="716.45" font-size="16.2" font-weight="bold" text-anchor="end">120</text>
<line x1="598.5" y1="951.2" x2="598.5" y2="961" stroke="#000" stroke-width="2.2" />
<text x="598.5" y="979.9" font-size="16.2" font-weight="bold" text-anchor="middle">2</text>
<line x1="636.2" y1="951.2" x2="636.2" y2="961" stroke="#000" stroke-width="2.2" />
<text x="636.2" y="979.9" font-size="16.2" font-weight="bold" text-anchor="middle">4</text>
<line x1="673.9" y1="951.2" x2="673.9" y2="961" stroke="#000" stroke-width="2.2" />
<text x="673.9" y="979.9" font-size="16.2" font-weight="bold" text-anchor="middle">8</text>
<line x1="711.7" y1="951.2" x2="711.7" y2="961" stroke="#000" stroke-width="2.2" />
<text x="711.7" y="979.9" font-size="16.2" font-weight="bold" text-anchor="middle">12</text>
<line x1="749.4" y1="951.2" x2="749.4" y2="961" stroke="#000" stroke-width="2.2" />
<text x="749.4" y="979.9" font-size="16.2" font-weight="bold" text-anchor="middle">24</text>
<line x1="787.2" y1="951.2" x2="787.2" y2="961" stroke="#000" stroke-width="2.2" />
<text x="787.2" y="979.9" font-size="16.2" font-weight="bold" text-anchor="middle">36</text>
<text x="517.7" y="830.7" font-size="19.8" class="se" font-weight="bold" text-anchor="middle" textLength="259" lengthAdjust="spacingAndGlyphs" transform="rotate(-90 517.7 830.7)">Doxorubicin Hydrochloride(ug)</text>
<text x="693.2" y="1009.6" font-size="19" class="se" font-weight="bold" text-anchor="middle" textLength="65.5" lengthAdjust="spacingAndGlyphs">Time(h)</text>
<text x="991.8" y="691" font-size="29.2" font-weight="bold">H</text>
<line x1="1056.3" y1="701.2" x2="1056.3" y2="926.5" stroke="#000" stroke-width="2.2" />
<line x1="1046.2" y1="925.4" x2="1278.4" y2="925.4" stroke="#000" stroke-width="2.2" />
<line x1="1046.2" y1="925.4" x2="1056.3" y2="925.4" stroke="#000" stroke-width="2.2" />
<text x="1042.2" y="931.15" font-size="16.2" font-weight="bold" text-anchor="end">0</text>
<line x1="1046.2" y1="880.78" x2="1056.3" y2="880.78" stroke="#000" stroke-width="2.2" />
<text x="1042.2" y="886.53" font-size="16.2" font-weight="bold" text-anchor="end">20</text>
<line x1="1046.2" y1="836.16" x2="1056.3" y2="836.16" stroke="#000" stroke-width="2.2" />
<text x="1042.2" y="841.91" font-size="16.2" font-weight="bold" text-anchor="end">40</text>
<line x1="1046.2" y1="791.54" x2="1056.3" y2="791.54" stroke="#000" stroke-width="2.2" />
<text x="1042.2" y="797.29" font-size="16.2" font-weight="bold" text-anchor="end">60</text>
<line x1="1046.2" y1="746.92" x2="1056.3" y2="746.92" stroke="#000" stroke-width="2.2" />
<text x="1042.2" y="752.67" font-size="16.2" font-weight="bold" text-anchor="end">80</text>
<line x1="1046.2" y1="702.3" x2="1056.3" y2="702.3" stroke="#000" stroke-width="2.2" />
<text x="1042.2" y="708.05" font-size="16.2" font-weight="bold" text-anchor="end">100</text>
<line x1="1077.7" y1="925.4" x2="1077.7" y2="935.2" stroke="#000" stroke-width="2.2" />
<text x="1077.7" y="952.9" font-size="16.2" font-weight="bold" text-anchor="middle">2</text>
<line x1="1122.1" y1="925.4" x2="1122.1" y2="935.2" stroke="#000" stroke-width="2.2" />
<text x="1122.1" y="952.9" font-size="16.2" font-weight="bold" text-anchor="middle">4</text>
<line x1="1166.5" y1="925.4" x2="1166.5" y2="935.2" stroke="#000" stroke-width="2.2" />
<text x="1166.5" y="952.9" font-size="16.2" font-weight="bold" text-anchor="middle">8</text>
<line x1="1211" y1="925.4" x2="1211" y2="935.2" stroke="#000" stroke-width="2.2" />
<text x="1211" y="952.9" font-size="16.2" font-weight="bold" text-anchor="middle">12</text>
<line x1="1255.4" y1="925.4" x2="1255.4" y2="935.2" stroke="#000" stroke-width="2.2" />
<text x="1255.4" y="952.9" font-size="16.2" font-weight="bold" text-anchor="middle">24</text>
<path d="M1077.7 828.1 L1122.1 806.4 L1166.5 803.4 L1211 768.2 L1255.4 746.3" fill="none" stroke="#111" stroke-width="1.1" />
<path d="M1077.7 889.3 L1122.1 888.6 L1166.5 886.9 L1211 884.1 L1255.4 881.6" fill="none" stroke="#111" stroke-width="1.1" />
<rect x="1074.3" y="824.7" width="6.8" height="6.8" fill="#000"/>
<rect x="1118.7" y="803" width="6.8" height="6.8" fill="#000"/>
<rect x="1163.1" y="800" width="6.8" height="6.8" fill="#000"/>
<rect x="1207.6" y="764.8" width="6.8" height="6.8" fill="#000"/>
<rect x="1252" y="742.9" width="6.8" height="6.8" fill="#000"/>
<circle cx="1077.7" cy="889.3" r="3.5" fill="#000"/>
<circle cx="1122.1" cy="888.6" r="3.5" fill="#000"/>
<circle cx="1166.5" cy="886.9" r="3.5" fill="#000"/>
<circle cx="1211" cy="884.1" r="3.5" fill="#000"/>
<circle cx="1255.4" cy="881.6" r="3.5" fill="#000"/>
<line x1="1211" y1="884" x2="1211" y2="879.9" stroke="#111" stroke-width="1" />
<line x1="1207.3" y1="879.9" x2="1214.7" y2="879.9" stroke="#111" stroke-width="1.1" />
<text x="1166.8" y="979.6" font-size="19" class="se" font-weight="bold" text-anchor="middle" textLength="60.5" lengthAdjust="spacingAndGlyphs">Time(h)</text>
<text x="1005.4" y="813.6" font-size="19.6" class="se" font-weight="bold" text-anchor="middle" textLength="216.5" lengthAdjust="spacingAndGlyphs" transform="rotate(-90 1005.4 813.6)">Cumulative drug release(%)</text>
<line x1="1329" y1="777.6" x2="1352.4" y2="777.6" stroke="#111" stroke-width="1" />
<circle cx="1340.8" cy="777.6" r="3.4" fill="#000"/>
<text x="1365.4" y="784.3" font-size="18.4" fill="#111">5.5</text>
<line x1="1329" y1="808.2" x2="1352.4" y2="808.2" stroke="#111" stroke-width="1" />
<rect x="1337.5" y="804.9" width="6.6" height="6.6" fill="#000"/>
<text x="1365.4" y="814.8" font-size="18.4" fill="#111">7.4</text>
</svg>
</body></html>
